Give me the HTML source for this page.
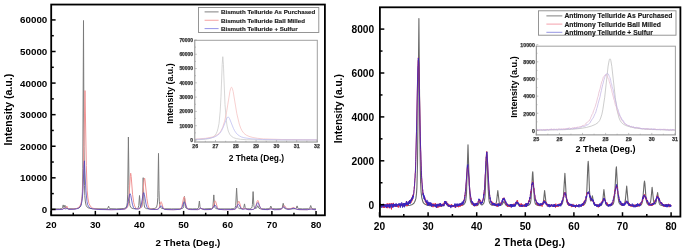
<!DOCTYPE html>
<html><head><meta charset="utf-8"><style>
html,body{margin:0;padding:0;background:#fff;width:685px;height:252px;overflow:hidden}
svg{display:block;will-change:transform}
text{font-family:"Liberation Sans",sans-serif;font-weight:bold}
</style></head><body><svg width="685" height="252" viewBox="0 0 685 252"><path d="M51.2 208.9L59.5 208.9L61.8 208.6L62.5 207.9L63.2 204.9L63.9 207.5L64.1 207.6L64.3 207.4L64.9 205.2L65.6 207.9L66.4 208.6L73.1 208.8L77.2 208.4L78.9 207.9L80.1 207.0L80.9 205.5L81.5 203.2L82.0 198.5L82.4 191.8L82.8 168.8L83.5 20.5L84.0 146.8L84.5 185.7L84.8 195.7L85.4 202.0L86.2 205.5L87.4 207.4L89.2 208.2L92.1 208.7L106.3 208.9L107.7 208.5L108.6 206.1L109.3 208.2L109.8 208.7L116.7 208.9L123.9 208.5L125.4 208.0L126.3 207.0L126.9 205.2L127.3 202.7L127.7 194.1L128.4 137.0L129.0 185.5L129.3 198.9L129.7 203.5L130.1 205.9L130.8 207.4L132.1 208.3L133.7 208.7L136.2 208.7L137.5 208.4L138.2 207.8L138.8 205.5L139.5 195.5L140.4 206.4L140.6 207.2L141.0 207.5L141.4 207.3L141.9 206.6L142.5 201.1L143.2 177.7L143.9 201.2L144.2 204.9L144.7 207.3L145.3 208.1L146.4 208.6L151.0 208.9L154.9 208.4L155.9 207.9L156.6 207.0L157.3 204.1L157.8 197.5L158.5 153.4L159.0 190.8L159.3 201.2L159.7 204.7L160.1 206.6L160.8 207.7L161.8 208.3L164.6 208.8L171.3 208.9L180.0 208.9L182.6 208.4L183.3 207.8L183.6 206.6L184.5 196.5L185.4 206.6L185.8 207.9L186.5 208.5L188.4 208.8L192.8 208.9L196.5 208.8L197.9 208.5L198.4 208.0L198.6 207.2L199.4 201.0L200.0 206.7L200.4 208.0L200.8 208.5L201.9 208.8L204.3 208.9L211.4 208.6L212.4 208.1L212.9 206.7L213.8 194.9L214.6 206.2L215.0 207.6L215.5 208.3L216.9 208.8L220.1 208.9L230.4 208.9L233.9 208.6L234.6 208.2L235.2 207.6L235.7 205.6L236.6 188.1L237.5 205.6L238.0 207.6L238.5 208.2L239.3 208.6L242.0 208.7L243.4 208.4L243.8 207.4L244.5 203.9L245.2 207.5L245.9 208.5L247.1 208.8L249.4 208.8L250.8 208.5L251.6 208.0L252.1 206.7L252.4 204.6L253.1 191.6L253.9 205.5L254.3 207.5L255.3 208.4L256.1 208.4L256.6 208.1L257.8 205.7L258.9 208.2L260.2 208.8L265.6 208.9L269.2 208.7L270.0 208.1L270.8 206.0L271.6 208.1L272.4 208.7L276.0 208.9L280.9 208.7L281.8 208.4L282.2 207.8L283.2 203.3L284.2 207.8L284.6 208.4L285.5 208.7L290.9 208.9L295.4 208.7L296.2 208.2L297.1 205.9L297.9 208.2L298.7 208.7L302.4 208.9L308.6 208.8L309.8 208.2L310.7 205.5L311.5 207.9L312.0 208.5L313.1 208.8L316.0 208.9" fill="none" stroke="#7a7a7a" stroke-width="1.00" stroke-linejoin="round" /><path d="M51.2 209.7L61.8 209.4L62.9 209.1L64.0 207.8L65.0 208.7L65.4 208.7L65.9 208.2L66.8 206.0L67.8 208.4L68.5 209.1L70.9 209.2L75.4 208.9L77.6 208.1L79.0 207.1L80.2 205.4L81.1 203.0L81.9 199.1L82.5 194.5L83.2 179.8L85.0 90.6L86.3 165.4L87.2 190.9L87.9 198.0L88.9 203.3L90.3 206.1L91.2 207.1L92.4 208.0L94.8 208.8L98.2 209.3L111.1 209.7L122.4 209.4L125.1 208.9L126.8 208.1L127.9 206.2L128.7 201.6L130.3 176.2L130.7 173.2L131.2 176.5L132.6 194.7L133.7 202.3L134.4 205.1L135.2 207.1L136.1 208.3L137.3 208.8L139.1 208.7L140.5 208.2L141.2 207.0L141.8 205.2L142.6 199.4L143.9 181.4L144.4 178.0L144.7 178.5L145.1 181.0L146.9 198.6L147.9 204.7L148.5 207.0L149.2 208.1L150.1 208.8L151.6 209.2L156.2 209.4L157.5 209.2L158.3 208.8L159.3 207.3L160.6 202.6L161.1 201.7L161.6 202.6L163.1 207.7L163.8 208.7L164.6 209.2L167.3 209.6L173.3 209.7L177.8 209.5L180.0 209.1L181.0 208.4L181.8 206.8L183.6 197.8L184.1 196.8L184.7 198.2L186.0 205.3L186.8 207.7L187.3 208.5L188.0 209.0L190.2 209.5L197.7 209.6L198.7 209.3L200.8 208.2L203.0 209.3L204.1 209.6L208.6 209.6L211.3 209.3L212.2 208.7L212.9 207.7L214.6 201.8L215.1 200.8L215.7 201.6L217.5 207.8L218.3 208.8L219.4 209.3L222.6 209.6L228.8 209.7L233.1 209.6L235.1 209.2L235.9 208.6L236.6 207.5L238.3 201.8L238.8 201.1L239.4 202.1L240.8 207.1L241.4 208.1L242.0 208.8L242.9 209.0L244.9 208.4L247.8 209.6L252.2 209.5L253.9 209.1L255.0 208.1L255.8 206.3L257.2 201.2L257.8 200.4L258.3 201.2L259.6 205.9L260.4 207.8L261.4 208.9L262.8 209.4L268.0 209.6L271.0 208.5L274.2 209.6L280.2 209.5L281.1 209.2L281.9 208.7L283.7 205.9L284.3 205.5L284.8 205.9L286.6 208.6L288.0 209.2L289.8 209.0L293.3 207.5L294.2 207.8L296.7 209.1L298.7 209.6L307.3 209.7L311.1 208.8L313.9 209.5L316.0 209.7" fill="none" stroke="#f09494" stroke-width="1.00" stroke-linejoin="round" /><path d="M51.2 209.7L61.8 209.5L62.9 209.2L64.0 208.3L65.0 208.9L65.5 208.9L66.7 207.9L67.8 209.0L68.5 209.4L75.0 209.2L78.2 208.4L79.3 207.7L80.2 206.6L81.0 205.0L81.5 203.2L82.5 196.8L83.1 186.8L84.0 164.5L84.4 160.8L85.9 190.8L87.0 201.6L87.7 204.8L88.8 206.8L90.4 208.2L92.6 208.9L98.9 209.5L111.7 209.7L121.3 209.5L125.2 208.9L126.4 207.9L127.3 205.9L129.5 195.1L129.9 193.9L130.1 193.7L130.8 195.6L132.4 204.2L133.4 207.4L134.2 208.4L135.2 208.9L137.0 209.1L138.7 208.9L139.9 208.0L140.8 206.1L141.6 202.8L143.1 194.1L143.5 192.8L143.8 192.6L144.4 194.6L146.0 203.9L146.9 207.1L147.5 208.0L148.3 208.8L150.9 209.4L155.4 209.5L157.9 209.3L159.0 208.5L160.6 206.0L161.1 205.6L161.6 206.0L163.4 208.7L164.8 209.5L173.2 209.7L179.8 209.4L181.0 208.8L181.8 207.9L183.8 202.4L184.3 201.8L184.8 202.4L186.3 206.8L187.2 208.5L188.4 209.3L190.8 209.6L197.5 209.6L198.6 209.3L200.7 208.2L202.8 209.3L203.9 209.6L210.8 209.5L211.7 209.2L212.5 208.6L214.3 205.6L215.0 205.1L215.5 205.5L217.4 208.6L218.8 209.4L224.7 209.7L233.5 209.5L234.9 209.2L235.8 208.5L237.8 204.6L238.3 204.1L239.0 204.7L240.7 208.1L241.9 209.1L243.2 209.3L245.5 208.8L248.2 209.6L251.9 209.6L253.8 209.2L254.9 208.3L255.8 206.7L257.1 203.4L257.8 202.6L258.4 203.4L259.8 206.7L260.7 208.3L261.6 209.1L263.2 209.5L268.0 209.6L271.0 208.8L274.1 209.7L279.5 209.6L281.2 209.0L283.2 207.2L283.9 206.9L284.5 207.3L286.4 208.9L288.0 209.4L290.1 209.2L293.5 208.2L297.0 209.3L299.0 209.6L307.3 209.7L311.1 209.0L313.9 209.6L316.0 209.7" fill="none" stroke="#4a40c0" stroke-width="1.00" stroke-linejoin="round" opacity="0.75"/><rect x="51.20" y="4.55" width="273.70" height="210.75" fill="none" stroke="#000" stroke-width="1.8"/><line x1="51.20" y1="209.40" x2="55.60" y2="209.40" stroke="#000" stroke-width="1.50"/><text x="47.30" y="212.90" font-size="9.80" text-anchor="end" fill="#000" >0</text><line x1="51.20" y1="193.61" x2="53.80" y2="193.61" stroke="#000" stroke-width="1.50"/><line x1="51.20" y1="177.82" x2="55.60" y2="177.82" stroke="#000" stroke-width="1.50"/><text x="47.30" y="181.32" font-size="9.80" text-anchor="end" fill="#000" >10000</text><line x1="51.20" y1="162.03" x2="53.80" y2="162.03" stroke="#000" stroke-width="1.50"/><line x1="51.20" y1="146.24" x2="55.60" y2="146.24" stroke="#000" stroke-width="1.50"/><text x="47.30" y="149.74" font-size="9.80" text-anchor="end" fill="#000" >20000</text><line x1="51.20" y1="130.45" x2="53.80" y2="130.45" stroke="#000" stroke-width="1.50"/><line x1="51.20" y1="114.66" x2="55.60" y2="114.66" stroke="#000" stroke-width="1.50"/><text x="47.30" y="118.16" font-size="9.80" text-anchor="end" fill="#000" >30000</text><line x1="51.20" y1="98.87" x2="53.80" y2="98.87" stroke="#000" stroke-width="1.50"/><line x1="51.20" y1="83.08" x2="55.60" y2="83.08" stroke="#000" stroke-width="1.50"/><text x="47.30" y="86.58" font-size="9.80" text-anchor="end" fill="#000" >40000</text><line x1="51.20" y1="67.29" x2="53.80" y2="67.29" stroke="#000" stroke-width="1.50"/><line x1="51.20" y1="51.50" x2="55.60" y2="51.50" stroke="#000" stroke-width="1.50"/><text x="47.30" y="55.00" font-size="9.80" text-anchor="end" fill="#000" >50000</text><line x1="51.20" y1="35.71" x2="53.80" y2="35.71" stroke="#000" stroke-width="1.50"/><line x1="51.20" y1="19.92" x2="55.60" y2="19.92" stroke="#000" stroke-width="1.50"/><text x="47.30" y="23.42" font-size="9.80" text-anchor="end" fill="#000" >60000</text><line x1="51.20" y1="215.30" x2="51.20" y2="210.90" stroke="#000" stroke-width="1.50"/><text x="51.20" y="227.60" font-size="9.70" text-anchor="middle" fill="#000" >20</text><line x1="73.27" y1="215.30" x2="73.27" y2="212.70" stroke="#000" stroke-width="1.50"/><line x1="95.34" y1="215.30" x2="95.34" y2="210.90" stroke="#000" stroke-width="1.50"/><text x="95.34" y="227.60" font-size="9.70" text-anchor="middle" fill="#000" >30</text><line x1="117.41" y1="215.30" x2="117.41" y2="212.70" stroke="#000" stroke-width="1.50"/><line x1="139.48" y1="215.30" x2="139.48" y2="210.90" stroke="#000" stroke-width="1.50"/><text x="139.48" y="227.60" font-size="9.70" text-anchor="middle" fill="#000" >40</text><line x1="161.55" y1="215.30" x2="161.55" y2="212.70" stroke="#000" stroke-width="1.50"/><line x1="183.62" y1="215.30" x2="183.62" y2="210.90" stroke="#000" stroke-width="1.50"/><text x="183.62" y="227.60" font-size="9.70" text-anchor="middle" fill="#000" >50</text><line x1="205.69" y1="215.30" x2="205.69" y2="212.70" stroke="#000" stroke-width="1.50"/><line x1="227.76" y1="215.30" x2="227.76" y2="210.90" stroke="#000" stroke-width="1.50"/><text x="227.76" y="227.60" font-size="9.70" text-anchor="middle" fill="#000" >60</text><line x1="249.83" y1="215.30" x2="249.83" y2="212.70" stroke="#000" stroke-width="1.50"/><line x1="271.90" y1="215.30" x2="271.90" y2="210.90" stroke="#000" stroke-width="1.50"/><text x="271.90" y="227.60" font-size="9.70" text-anchor="middle" fill="#000" >70</text><line x1="293.97" y1="215.30" x2="293.97" y2="212.70" stroke="#000" stroke-width="1.50"/><line x1="316.04" y1="215.30" x2="316.04" y2="210.90" stroke="#000" stroke-width="1.50"/><text x="316.04" y="227.60" font-size="9.70" text-anchor="middle" fill="#000" >80</text><text x="188.00" y="246.00" font-size="9.80" text-anchor="middle" fill="#000" >2 Theta (Deg.)</text><text x="0.00" y="0.00" font-size="10.60" text-anchor="middle" fill="#000" transform="translate(11.9,109.6) rotate(-90)">Intensity (a.u.)</text><rect x="198.5" y="7.5" width="120.3" height="25" fill="#fff" stroke="#8a8a8a" stroke-width="0.9"/><line x1="204.60" y1="11.90" x2="218.60" y2="11.90" stroke="#555" stroke-width="0.75"/><line x1="204.60" y1="20.25" x2="218.60" y2="20.25" stroke="#f08080" stroke-width="0.75"/><line x1="204.60" y1="28.60" x2="218.60" y2="28.60" stroke="#7070e0" stroke-width="0.75"/><text x="221.00" y="14.20" font-size="6.18" text-anchor="start" fill="#1a1a1a" stroke="#1a1a1a" stroke-width="0.15">Bismuth Telluride As Purchased</text><text x="221.00" y="22.55" font-size="6.18" text-anchor="start" fill="#1a1a1a" stroke="#1a1a1a" stroke-width="0.15">Bismuth Telluride Ball Milled</text><text x="221.00" y="30.90" font-size="6.18" text-anchor="start" fill="#1a1a1a" stroke="#1a1a1a" stroke-width="0.15">Bismuth Telluride + Sulfur</text><rect x="194.80" y="40.30" width="122.50" height="101.70" fill="#fff"/><path d="M195.2 139.9L205.6 139.2L208.8 138.7L211.4 137.9L213.5 136.9L215.1 135.4L216.3 133.5L217.3 131.1L218.1 128.1L219.0 123.6L220.2 111.2L221.0 96.2L222.2 64.3L222.8 56.7L223.4 64.3L225.0 104.6L226.3 120.4L227.1 126.1L228.3 131.1L229.7 134.2L231.3 136.2L233.6 137.7L236.4 138.6L240.5 139.3L246.4 139.7L266.9 140.1L317.0 140.2" fill="none" stroke="#c4c4c4" stroke-width="0.70" stroke-linejoin="round" /><path d="M195.2 139.1L205.6 138.3L212.5 137.0L215.1 136.0L217.1 134.9L219.0 133.5L220.4 131.8L222.6 127.6L224.6 121.2L226.5 112.5L229.9 91.6L230.7 88.4L231.1 87.5L231.5 87.3L231.9 87.5L232.3 88.4L233.2 91.6L236.8 113.6L239.3 124.1L240.7 128.1L242.1 130.9L243.9 133.3L246.2 135.1L249.0 136.4L252.9 137.5L257.5 138.3L263.6 138.9L282.1 139.5L317.0 139.8" fill="none" stroke="#f4bcbc" stroke-width="0.70" stroke-linejoin="round" /><path d="M195.2 139.4L203.7 139.0L209.8 138.2L214.1 137.2L217.3 135.5L219.6 133.6L221.6 130.7L223.4 126.8L226.5 118.9L227.3 117.5L228.1 117.0L228.7 117.3L229.5 118.5L233.4 128.3L234.6 130.7L236.0 132.8L237.4 134.4L239.3 135.8L241.3 136.9L243.9 137.7L251.0 138.8L262.4 139.5L281.5 139.8L317.0 139.9" fill="none" stroke="#b8b8f0" stroke-width="0.70" stroke-linejoin="round" /><line x1="194.30" y1="40.30" x2="317.80" y2="40.30" stroke="#a0a0a0" stroke-width="1.00"/><line x1="317.30" y1="40.30" x2="317.30" y2="142.00" stroke="#a0a0a0" stroke-width="1.00"/><line x1="194.80" y1="39.80" x2="194.80" y2="142.50" stroke="#888" stroke-width="1.00"/><line x1="194.30" y1="142.00" x2="317.80" y2="142.00" stroke="#888" stroke-width="1.00"/><line x1="194.80" y1="140.00" x2="196.80" y2="140.00" stroke="#999" stroke-width="0.60"/><text x="193.00" y="141.80" font-size="4.90" text-anchor="end" fill="#333" stroke="#333" stroke-width="0.25">0</text><line x1="194.80" y1="132.85" x2="196.00" y2="132.85" stroke="#999" stroke-width="0.60"/><line x1="194.80" y1="125.71" x2="196.80" y2="125.71" stroke="#999" stroke-width="0.60"/><text x="193.00" y="127.51" font-size="4.90" text-anchor="end" fill="#333" stroke="#333" stroke-width="0.25">10000</text><line x1="194.80" y1="118.56" x2="196.00" y2="118.56" stroke="#999" stroke-width="0.60"/><line x1="194.80" y1="111.42" x2="196.80" y2="111.42" stroke="#999" stroke-width="0.60"/><text x="193.00" y="113.22" font-size="4.90" text-anchor="end" fill="#333" stroke="#333" stroke-width="0.25">20000</text><line x1="194.80" y1="104.28" x2="196.00" y2="104.28" stroke="#999" stroke-width="0.60"/><line x1="194.80" y1="97.13" x2="196.80" y2="97.13" stroke="#999" stroke-width="0.60"/><text x="193.00" y="98.93" font-size="4.90" text-anchor="end" fill="#333" stroke="#333" stroke-width="0.25">30000</text><line x1="194.80" y1="89.98" x2="196.00" y2="89.98" stroke="#999" stroke-width="0.60"/><line x1="194.80" y1="82.84" x2="196.80" y2="82.84" stroke="#999" stroke-width="0.60"/><text x="193.00" y="84.64" font-size="4.90" text-anchor="end" fill="#333" stroke="#333" stroke-width="0.25">40000</text><line x1="194.80" y1="75.70" x2="196.00" y2="75.70" stroke="#999" stroke-width="0.60"/><line x1="194.80" y1="68.55" x2="196.80" y2="68.55" stroke="#999" stroke-width="0.60"/><text x="193.00" y="70.35" font-size="4.90" text-anchor="end" fill="#333" stroke="#333" stroke-width="0.25">50000</text><line x1="194.80" y1="61.41" x2="196.00" y2="61.41" stroke="#999" stroke-width="0.60"/><line x1="194.80" y1="54.26" x2="196.80" y2="54.26" stroke="#999" stroke-width="0.60"/><text x="193.00" y="56.06" font-size="4.90" text-anchor="end" fill="#333" stroke="#333" stroke-width="0.25">60000</text><line x1="194.80" y1="47.12" x2="196.00" y2="47.12" stroke="#999" stroke-width="0.60"/><line x1="194.80" y1="39.97" x2="196.80" y2="39.97" stroke="#999" stroke-width="0.60"/><text x="193.00" y="41.77" font-size="4.90" text-anchor="end" fill="#333" stroke="#333" stroke-width="0.25">70000</text><line x1="195.20" y1="142.00" x2="195.20" y2="140.00" stroke="#999" stroke-width="0.60"/><text x="195.20" y="147.80" font-size="5.20" text-anchor="middle" fill="#333" stroke="#333" stroke-width="0.25">26</text><line x1="205.35" y1="142.00" x2="205.35" y2="140.80" stroke="#999" stroke-width="0.60"/><line x1="215.50" y1="142.00" x2="215.50" y2="140.00" stroke="#999" stroke-width="0.60"/><text x="215.50" y="147.80" font-size="5.20" text-anchor="middle" fill="#333" stroke="#333" stroke-width="0.25">27</text><line x1="225.65" y1="142.00" x2="225.65" y2="140.80" stroke="#999" stroke-width="0.60"/><line x1="235.80" y1="142.00" x2="235.80" y2="140.00" stroke="#999" stroke-width="0.60"/><text x="235.80" y="147.80" font-size="5.20" text-anchor="middle" fill="#333" stroke="#333" stroke-width="0.25">28</text><line x1="245.95" y1="142.00" x2="245.95" y2="140.80" stroke="#999" stroke-width="0.60"/><line x1="256.10" y1="142.00" x2="256.10" y2="140.00" stroke="#999" stroke-width="0.60"/><text x="256.10" y="147.80" font-size="5.20" text-anchor="middle" fill="#333" stroke="#333" stroke-width="0.25">29</text><line x1="266.25" y1="142.00" x2="266.25" y2="140.80" stroke="#999" stroke-width="0.60"/><line x1="276.40" y1="142.00" x2="276.40" y2="140.00" stroke="#999" stroke-width="0.60"/><text x="276.40" y="147.80" font-size="5.20" text-anchor="middle" fill="#333" stroke="#333" stroke-width="0.25">30</text><line x1="286.55" y1="142.00" x2="286.55" y2="140.80" stroke="#999" stroke-width="0.60"/><line x1="296.70" y1="142.00" x2="296.70" y2="140.00" stroke="#999" stroke-width="0.60"/><text x="296.70" y="147.80" font-size="5.20" text-anchor="middle" fill="#333" stroke="#333" stroke-width="0.25">31</text><line x1="306.85" y1="142.00" x2="306.85" y2="140.80" stroke="#999" stroke-width="0.60"/><line x1="317.00" y1="142.00" x2="317.00" y2="140.00" stroke="#999" stroke-width="0.60"/><text x="317.00" y="147.80" font-size="5.20" text-anchor="middle" fill="#333" stroke="#333" stroke-width="0.25">32</text><text x="256.40" y="160.60" font-size="8.40" text-anchor="middle" fill="#000" >2 Theta (Deg.)</text><text x="0.00" y="0.00" font-size="8.95" text-anchor="middle" fill="#000" transform="translate(173.3,93.5) rotate(-90)">Intensity (a.u.)</text><path d="M379.5 206.0L402.1 205.8L407.0 205.6L410.1 205.2L412.4 204.4L413.9 203.2L415.1 201.1L415.9 198.4L416.5 193.4L416.9 187.4L417.5 164.5L418.9 18.6L420.0 149.8L420.6 182.4L421.1 192.3L421.8 197.9L422.9 201.9L423.7 203.1L424.7 204.1L426.8 205.1L430.0 205.7L436.4 206.0L442.3 205.9L443.3 205.7L443.9 205.2L445.6 201.8L447.0 204.8L447.7 205.6L449.5 205.9L453.7 206.0L458.4 205.8L461.4 205.5L463.4 204.8L464.6 203.6L465.3 202.3L465.8 200.4L466.5 193.1L468.0 144.8L469.3 186.6L470.0 198.2L470.5 201.3L471.3 203.3L472.4 204.6L474.2 205.4L476.2 205.7L477.7 205.4L478.4 204.5L479.6 201.7L481.1 204.5L481.6 204.9L482.2 204.9L483.5 203.7L484.3 201.6L484.9 197.4L485.3 191.6L486.4 157.1L486.8 152.3L488.1 187.4L488.8 198.3L489.2 201.5L489.8 203.3L490.8 204.5L492.2 205.2L494.9 205.0L495.6 204.6L496.0 203.7L496.6 201.0L497.8 190.6L499.2 202.3L499.7 204.2L500.5 205.0L501.4 205.0L502.1 204.6L503.5 202.0L503.9 201.7L505.9 205.0L506.6 205.6L507.8 205.9L511.8 206.0L514.4 205.8L515.4 205.1L517.0 203.0L518.9 205.3L520.2 205.9L523.2 206.0L526.4 205.7L528.1 205.4L529.3 204.7L530.0 203.9L530.5 202.8L531.1 198.6L532.5 173.4L532.8 171.7L534.4 199.5L535.1 203.0L535.6 204.0L536.4 204.8L538.0 205.4L540.3 205.6L541.8 205.2L542.7 204.4L543.5 201.2L544.6 190.6L545.9 201.9L546.4 204.0L547.1 205.1L548.0 205.6L549.7 205.9L556.1 206.0L559.8 205.5L561.0 205.1L561.8 204.5L562.7 202.4L563.3 198.5L564.9 173.4L566.3 197.4L566.8 201.5L567.6 203.9L568.3 204.7L569.2 205.3L572.3 205.9L579.3 205.9L581.7 205.6L583.3 205.1L584.5 204.3L585.3 203.2L585.9 201.4L586.2 199.0L586.8 191.3L587.8 166.5L588.2 161.4L588.6 166.4L589.5 191.0L590.2 199.0L590.6 200.7L590.8 201.0L591.1 200.9L592.4 195.9L593.7 203.4L594.2 204.6L595.0 205.3L596.8 205.8L599.4 205.9L600.9 205.5L601.8 204.7L602.7 201.1L603.9 189.6L605.3 201.7L605.7 203.6L606.2 204.8L606.8 205.3L607.5 205.7L610.1 205.7L612.0 205.1L613.3 203.8L614.0 201.3L614.6 196.6L616.0 169.9L616.4 166.9L618.1 197.5L618.9 202.3L619.5 203.6L620.3 204.4L621.6 205.0L623.1 205.1L624.2 204.5L624.7 203.4L625.4 199.7L626.7 186.1L628.0 200.6L628.5 203.3L629.1 204.6L629.8 205.2L631.0 205.7L634.7 206.0L639.0 205.7L640.4 205.3L641.3 204.7L642.1 203.1L642.7 200.3L644.1 183.7L644.5 181.1L644.9 183.6L646.1 199.4L646.7 202.5L647.5 204.0L648.3 204.5L649.2 204.4L649.9 203.8L650.4 202.6L651.0 199.0L652.1 187.4L653.5 200.4L653.9 202.4L654.5 203.7L655.0 203.9L655.4 203.7L656.0 202.3L657.6 192.5L659.0 202.3L659.4 203.7L660.0 204.7L661.1 205.3L662.8 205.7L671.1 206.0" fill="none" stroke="#686868" stroke-width="1.10" stroke-linejoin="round" /><path d="M379.5 205.6L379.6 204.3L379.8 206.7L379.9 204.6L380.1 206.0L380.2 206.0L380.4 203.6L380.5 205.5L380.7 205.7L381.0 204.4L381.1 205.7L381.2 205.0L381.4 206.7L381.5 206.1L381.7 206.1L381.8 207.1L382.1 207.4L382.3 205.9L382.4 205.8L382.6 206.0L382.7 205.6L382.9 207.1L383.0 205.7L383.3 204.8L383.4 206.6L383.6 206.1L383.7 207.8L383.9 206.2L384.0 208.0L384.2 207.2L384.3 204.4L384.5 208.0L384.6 204.7L384.9 206.0L385.0 205.1L385.2 205.0L385.3 204.5L385.5 205.9L385.6 206.2L385.8 206.3L385.9 206.7L386.1 205.6L386.2 206.4L386.4 204.4L386.5 207.6L386.6 206.8L386.8 206.6L386.9 207.9L387.1 203.5L387.2 208.2L387.4 205.9L387.5 206.1L387.7 203.7L387.8 207.7L388.0 204.4L388.1 206.3L388.2 205.7L388.4 206.3L388.5 204.8L388.7 206.8L388.8 205.6L389.0 205.1L389.1 203.5L389.3 208.2L389.4 203.8L389.6 204.5L389.7 206.0L389.9 205.2L390.0 206.0L390.1 203.7L390.3 205.3L390.4 205.7L390.9 205.7L391.0 206.4L391.2 203.2L391.3 207.5L391.5 209.4L391.6 205.6L391.7 205.6L391.9 205.0L392.0 205.7L392.2 205.6L392.5 204.4L392.6 205.9L392.8 205.8L392.9 203.3L393.2 206.5L393.4 202.9L393.6 206.0L393.8 206.6L393.9 205.0L394.1 206.3L394.4 206.7L394.7 204.1L395.0 206.9L395.1 204.6L395.2 205.2L395.4 204.4L395.5 204.0L395.7 205.5L396.0 205.3L396.1 206.5L396.3 204.5L396.4 203.8L396.6 205.1L396.7 205.5L396.9 205.5L397.0 206.1L397.1 206.1L397.3 205.6L397.4 206.1L397.6 205.7L397.7 206.9L397.9 204.8L398.0 205.1L398.3 207.6L398.5 205.2L398.6 204.0L398.7 205.9L398.9 205.6L399.0 205.7L399.2 204.4L399.3 206.1L399.5 204.0L399.6 205.4L399.8 204.1L399.9 205.0L400.1 205.3L400.2 206.6L400.6 204.3L400.8 204.7L400.9 205.7L401.2 203.9L401.4 205.1L401.5 205.4L401.7 205.3L401.8 204.0L402.0 204.3L402.1 205.8L402.2 204.4L402.4 205.3L402.5 205.6L402.7 203.4L402.8 203.9L403.0 205.5L403.3 204.1L403.4 205.3L403.7 203.9L403.8 206.4L404.0 204.2L404.1 203.7L404.3 204.0L404.4 205.9L404.6 204.1L404.7 205.3L404.9 203.8L405.0 203.7L405.2 204.1L405.3 205.1L405.5 204.8L405.6 203.3L405.7 205.1L405.9 203.6L406.0 203.5L406.2 204.3L406.3 201.5L406.5 203.9L406.6 201.6L406.8 205.9L406.9 206.1L407.1 202.7L407.2 203.0L407.3 203.9L407.5 203.6L407.6 205.5L407.8 204.1L407.9 204.4L408.2 202.3L408.4 203.1L408.5 202.7L408.7 203.7L409.0 202.7L409.1 203.0L409.2 201.3L409.4 203.4L409.5 200.4L409.7 203.2L409.8 201.0L410.0 202.8L410.1 200.1L410.3 201.5L410.6 200.6L410.7 201.9L410.8 202.1L411.0 202.9L411.1 199.4L411.3 201.1L411.4 200.8L411.6 200.0L411.7 197.7L411.9 201.2L412.0 198.9L412.2 199.2L412.3 197.9L412.5 199.9L412.9 195.2L413.0 194.7L413.2 196.6L413.3 195.0L413.5 194.5L413.6 195.0L413.8 194.2L413.9 191.0L414.2 189.5L414.3 186.7L414.5 187.3L414.6 183.9L414.9 180.1L415.4 170.9L415.7 161.5L415.8 159.3L416.5 131.3L417.6 79.2L418.0 63.3L418.1 60.4L418.3 59.9L418.4 57.7L418.9 66.3L419.3 84.2L420.3 136.3L420.9 159.3L421.1 161.2L421.3 170.5L421.5 172.1L421.6 177.6L422.2 184.6L422.5 190.8L422.7 190.0L422.8 193.0L422.9 192.7L423.1 194.8L423.2 193.3L423.7 196.3L424.0 197.6L424.1 197.4L424.3 197.9L424.4 198.1L424.6 199.3L424.7 197.4L424.8 199.3L425.0 198.5L425.1 198.8L425.3 201.2L425.4 202.2L425.6 199.6L425.7 201.4L425.9 201.1L426.0 201.7L426.2 201.5L426.3 202.9L426.4 202.0L426.6 202.5L426.7 202.2L426.9 204.7L427.0 201.7L427.2 202.3L427.3 204.4L427.8 202.5L427.9 203.2L428.1 201.9L428.3 204.4L428.5 204.2L428.6 202.9L428.8 204.3L428.9 203.0L429.1 202.9L429.2 203.4L429.4 203.0L429.5 204.2L429.7 204.1L429.8 204.7L429.9 204.8L430.1 205.8L430.2 204.9L430.5 205.8L430.7 204.3L430.8 204.1L431.0 204.9L431.1 203.3L431.3 203.7L431.4 203.7L431.7 206.2L431.8 204.2L432.0 204.5L432.1 204.1L432.3 204.5L432.4 203.7L432.6 205.2L432.7 204.3L433.0 207.2L433.3 203.6L433.4 206.7L433.6 204.1L433.7 205.8L434.0 205.1L434.2 205.0L434.3 206.1L434.5 205.1L434.8 204.5L434.9 206.0L435.0 203.8L435.3 203.0L435.5 206.6L435.6 205.2L435.8 207.1L435.9 205.0L436.1 204.8L436.2 206.4L436.4 206.9L436.5 205.2L436.7 204.8L436.8 206.1L436.9 205.6L437.1 207.8L437.2 206.1L437.4 205.3L437.5 205.3L437.7 203.9L437.8 206.5L438.0 207.6L438.1 205.0L438.3 206.0L438.4 205.2L438.5 204.8L438.7 204.9L438.8 204.1L439.0 204.2L439.1 207.1L439.4 203.6L439.6 205.9L439.7 204.6L439.9 205.6L440.0 205.9L440.2 204.0L440.3 204.5L440.4 205.7L440.6 204.7L440.7 206.7L440.9 206.2L441.0 204.7L441.3 206.5L441.5 205.0L441.6 205.1L441.8 204.2L441.9 204.5L442.0 205.6L442.2 205.8L442.3 205.4L442.5 205.5L442.6 203.9L442.8 203.7L442.9 203.8L443.2 205.1L443.4 203.9L443.5 205.0L443.7 204.3L443.8 205.8L444.1 202.6L444.2 204.6L444.4 204.8L444.7 201.4L444.8 201.4L445.0 202.8L445.1 202.7L445.3 202.2L445.4 202.8L445.5 201.9L445.7 202.2L445.8 203.3L446.0 202.7L446.1 202.6L446.4 203.8L446.6 202.2L446.7 201.6L446.9 203.8L447.0 204.2L447.2 203.6L447.4 205.1L447.6 203.3L447.7 205.7L447.9 205.5L448.0 205.6L448.2 205.9L448.6 204.0L448.9 205.4L449.0 206.6L449.2 205.5L449.3 206.4L449.6 204.7L450.1 206.3L450.2 205.6L450.4 205.5L450.5 206.5L450.7 206.1L450.8 204.9L450.9 207.2L451.1 206.1L451.2 206.7L451.4 204.3L451.5 205.1L452.0 205.4L452.1 205.4L452.3 207.1L452.4 205.5L452.5 205.2L452.7 207.0L452.8 204.9L453.0 205.1L453.1 207.0L453.3 206.1L453.4 205.9L453.6 206.1L453.7 205.3L453.9 206.8L454.0 205.9L454.3 205.0L454.4 205.6L454.6 205.8L454.7 205.0L454.9 207.4L455.0 204.8L455.3 206.7L455.5 206.0L455.6 207.2L455.8 207.4L455.9 205.8L456.0 206.2L456.2 204.9L456.3 206.3L456.5 206.6L456.6 206.3L456.8 204.0L456.9 205.4L457.2 206.3L457.4 206.4L457.8 204.3L457.9 204.3L458.2 205.9L458.4 206.0L458.5 207.2L458.8 204.8L459.0 205.4L459.1 204.8L459.3 206.2L459.4 204.3L459.5 204.7L459.7 204.9L459.8 204.6L460.0 206.8L460.1 205.3L460.3 205.6L460.4 203.2L460.6 204.8L460.7 205.1L460.9 203.8L461.0 205.4L461.1 203.2L461.3 205.0L461.4 204.3L461.6 205.0L461.7 203.4L461.9 205.9L462.0 203.3L462.2 204.5L462.3 203.6L462.5 204.5L462.6 203.2L462.8 203.0L462.9 202.5L463.0 202.5L463.3 201.5L463.5 202.4L463.6 202.7L463.8 202.4L463.9 200.3L464.1 200.7L464.2 198.9L464.5 199.3L464.8 195.1L464.9 195.9L465.1 195.4L465.2 194.1L465.4 191.3L465.5 191.0L465.8 186.6L466.3 181.9L466.8 172.8L467.0 171.9L467.3 168.0L467.7 165.7L468.0 167.3L468.1 169.3L468.3 169.5L468.7 176.0L468.9 176.8L469.0 177.3L469.3 183.4L469.6 187.7L470.0 192.5L470.2 193.2L470.6 197.4L470.8 197.4L470.9 199.3L471.1 198.5L471.2 200.1L471.4 200.4L471.5 200.2L471.6 200.8L471.8 202.8L471.9 202.2L472.1 202.0L472.4 204.8L472.5 203.1L472.7 203.3L472.8 203.1L473.0 203.5L473.2 203.7L473.4 202.9L473.5 203.7L473.7 203.8L473.8 204.6L474.0 203.5L474.1 204.7L474.3 204.0L474.4 206.4L474.6 204.5L474.9 205.1L475.0 203.7L475.1 204.5L475.4 205.3L475.6 203.3L475.7 204.2L475.9 204.3L476.0 205.4L476.2 203.7L476.5 204.9L476.6 204.7L476.7 205.8L476.9 203.9L477.0 205.1L477.2 203.4L477.3 204.2L477.5 204.1L477.6 203.0L477.8 202.8L477.9 203.5L478.2 201.3L478.5 201.9L478.6 200.6L478.8 200.9L479.1 199.6L479.2 199.7L479.4 199.9L479.5 201.3L479.7 200.0L480.0 201.3L480.1 201.3L480.2 200.2L480.4 203.1L480.5 203.6L480.7 201.9L480.8 203.2L481.0 201.7L481.1 203.6L481.3 203.2L481.4 202.1L481.6 202.0L481.7 202.3L481.9 202.1L482.0 202.4L482.1 202.5L482.3 202.1L482.4 200.6L482.7 200.9L483.2 198.5L483.3 198.9L483.5 198.1L483.6 196.9L483.7 194.1L483.9 194.8L484.0 192.7L484.2 193.5L484.3 190.0L484.5 189.9L484.6 187.7L485.5 171.4L485.6 166.1L485.8 164.8L486.1 158.0L486.7 151.5L486.8 153.7L487.1 154.6L487.2 158.1L487.5 160.5L488.1 174.0L488.3 175.8L488.6 182.3L489.1 190.7L489.3 191.1L489.9 197.8L490.2 199.6L490.3 199.3L490.5 199.4L490.9 201.8L491.0 201.7L491.2 202.1L491.3 202.0L491.5 201.6L491.6 203.4L491.8 201.5L491.9 204.9L492.2 204.7L492.5 204.0L492.6 202.4L492.8 204.6L492.9 203.3L493.1 204.5L493.2 204.2L493.4 205.2L493.5 202.8L493.7 204.6L493.8 205.1L494.0 203.0L494.1 204.6L494.2 204.4L494.7 205.9L495.0 203.6L495.3 205.0L495.4 204.1L495.6 205.6L495.7 203.9L496.0 205.6L496.1 204.5L496.3 204.6L496.4 205.3L496.9 204.0L497.2 207.0L497.3 203.6L497.5 205.3L497.6 205.4L497.7 204.8L497.9 205.4L498.0 204.3L498.2 206.0L498.3 205.2L498.5 206.0L498.6 203.9L498.8 205.2L498.9 204.2L499.1 203.9L499.2 205.8L499.5 204.3L499.6 204.7L499.8 204.8L499.9 204.0L500.1 203.9L500.2 204.9L500.5 203.7L500.7 203.9L500.8 203.8L501.0 204.5L501.1 202.2L501.2 203.5L501.4 202.9L501.5 202.8L501.8 202.1L502.0 202.5L502.3 200.4L502.4 200.6L502.6 200.0L502.7 199.9L502.8 199.8L503.0 198.2L503.1 199.8L503.4 198.1L503.6 198.5L503.7 199.4L503.9 199.5L504.0 197.7L504.2 199.6L504.3 199.1L504.5 199.0L504.6 199.6L504.7 201.3L504.9 201.7L505.0 200.8L505.2 201.7L505.3 201.6L505.5 201.7L505.6 202.0L505.8 203.4L505.9 204.0L506.1 202.4L506.2 203.8L506.5 205.2L506.6 203.6L506.8 205.1L506.9 205.1L507.1 204.0L507.2 204.4L507.4 204.3L507.7 207.0L507.8 205.7L507.9 205.3L508.1 205.6L508.2 204.6L508.4 205.0L508.5 206.1L508.7 205.0L509.0 205.8L509.1 204.7L509.3 206.7L509.4 204.8L509.6 204.8L509.7 207.0L509.8 205.7L510.0 205.7L510.1 206.4L510.3 206.0L510.4 206.2L510.6 205.6L510.7 206.0L510.9 207.2L511.0 204.8L511.2 205.0L511.3 206.3L511.6 204.3L511.7 206.8L511.9 206.0L512.0 206.1L512.2 205.3L512.5 206.7L512.6 204.8L512.8 205.9L513.1 204.0L513.2 206.2L513.3 205.9L513.5 205.0L513.6 205.6L513.8 205.2L513.9 205.5L514.1 203.5L514.2 205.0L514.5 205.2L514.7 204.9L514.8 206.2L515.1 204.3L515.2 205.5L515.4 204.5L515.5 204.4L515.7 204.5L515.8 202.2L516.0 203.2L516.1 203.2L516.3 203.8L516.4 202.9L516.6 203.0L516.8 202.2L517.0 200.5L517.1 201.3L517.3 201.0L517.4 201.3L517.6 200.4L517.7 203.1L517.9 203.7L518.0 202.9L518.3 203.5L518.4 204.2L518.7 203.0L518.9 204.2L519.0 204.7L519.2 203.9L519.3 205.1L519.5 205.2L519.6 204.8L519.8 206.8L519.9 203.9L520.1 205.4L520.2 205.0L520.3 205.2L520.5 205.1L520.6 206.4L520.8 204.2L520.9 205.1L521.1 205.3L521.2 203.3L521.4 206.4L521.5 205.0L521.8 206.6L521.9 204.2L522.1 206.6L522.2 205.4L522.4 205.6L522.5 205.4L522.7 206.2L522.8 204.6L523.1 206.4L523.3 206.3L523.4 205.3L523.6 206.3L523.7 205.1L523.8 205.2L524.1 206.7L524.3 206.3L524.4 205.1L524.6 205.7L524.7 204.0L524.9 205.6L525.0 205.0L525.2 204.7L525.3 205.1L525.4 204.9L525.6 204.4L525.7 205.1L525.9 204.8L526.0 205.2L526.2 203.5L526.3 204.7L526.5 204.2L526.6 206.8L526.8 205.0L526.9 205.3L527.0 204.4L527.3 205.0L527.6 203.5L527.8 203.1L527.9 204.1L528.1 202.8L528.2 203.8L528.4 202.7L528.5 203.4L528.8 200.6L528.9 202.0L529.1 200.5L529.2 202.0L529.4 200.9L529.5 198.0L529.7 199.3L529.8 198.3L530.0 199.0L530.1 197.1L530.3 196.8L530.4 194.6L530.5 194.9L530.7 191.7L530.8 193.2L531.0 191.2L531.1 191.8L531.4 187.4L531.7 187.1L532.0 183.8L532.2 183.6L532.3 182.7L532.4 184.1L532.6 181.7L532.7 182.6L532.9 184.8L533.0 182.5L533.2 184.8L533.3 184.9L533.5 187.6L533.6 187.6L533.8 189.5L533.9 188.6L534.2 192.0L534.3 192.7L534.5 192.6L534.6 194.9L534.8 194.9L535.1 198.2L535.2 198.1L535.5 199.0L535.7 199.0L535.8 200.5L535.9 201.0L536.1 200.6L536.4 202.0L536.5 202.1L536.7 204.1L536.8 203.2L537.0 204.2L537.3 202.8L537.4 204.8L537.5 203.1L537.7 204.2L537.8 204.1L538.0 204.4L538.1 203.7L538.4 205.8L538.6 204.2L538.7 204.6L538.9 204.1L539.0 204.1L539.2 205.5L539.3 204.5L539.6 204.8L539.9 204.5L540.0 205.2L540.2 204.9L540.3 204.1L540.5 205.6L540.6 204.9L540.8 205.5L540.9 205.5L541.2 204.6L541.3 203.7L541.5 204.8L541.6 204.0L541.9 204.4L542.1 206.6L542.2 204.2L542.4 204.1L542.5 204.8L542.8 202.7L542.9 204.4L543.2 202.5L543.4 204.2L543.7 202.3L544.0 201.3L544.1 201.5L544.3 200.2L544.5 202.6L544.8 201.3L545.0 201.6L545.1 203.4L545.3 201.9L545.4 202.9L545.6 202.7L545.7 201.8L545.9 203.2L546.0 203.7L546.1 203.6L546.3 204.1L546.4 202.5L546.6 203.5L546.7 203.6L546.9 204.9L547.0 205.0L547.2 204.5L547.3 206.3L547.5 204.2L547.6 205.9L547.8 205.0L547.9 204.9L548.0 205.8L548.2 205.0L548.3 204.8L548.5 204.0L548.6 205.1L548.8 204.1L549.1 205.6L549.2 204.9L549.4 205.9L549.8 204.8L550.1 206.6L550.2 204.7L550.4 205.5L550.7 206.2L550.8 205.2L551.0 205.4L551.1 205.2L551.3 205.7L551.4 204.6L551.5 205.9L551.7 205.4L551.8 205.5L552.0 204.9L552.1 206.2L552.3 205.9L552.4 205.8L552.6 206.2L552.7 206.1L552.9 206.5L553.0 205.2L553.1 204.6L553.3 206.4L553.4 205.1L553.6 206.5L554.2 205.4L554.3 207.0L554.5 206.6L554.6 205.6L554.8 205.8L554.9 204.2L555.0 205.8L555.2 206.1L555.3 204.8L555.5 207.5L555.6 206.9L555.8 203.7L555.9 206.0L556.1 205.6L556.2 205.7L556.4 206.2L556.5 205.7L556.6 206.5L556.8 204.9L557.1 205.0L557.4 206.8L557.5 205.8L557.7 206.2L557.8 205.2L558.0 206.5L558.3 205.3L558.4 205.0L558.5 205.2L558.7 206.2L558.8 205.7L559.0 203.8L559.3 205.7L559.4 203.8L559.6 205.1L559.7 205.0L559.9 205.5L560.0 203.8L560.1 204.7L560.3 204.7L560.4 205.2L560.6 205.4L560.7 204.2L560.9 204.2L561.0 203.0L561.2 204.5L561.5 202.7L561.6 202.6L561.8 203.4L561.9 201.6L562.0 201.9L562.2 201.2L562.3 201.2L562.5 200.3L562.6 200.8L562.8 200.1L562.9 198.7L563.1 198.6L563.4 196.8L563.5 196.8L563.6 196.0L563.8 197.2L564.1 193.9L564.2 194.6L564.5 193.0L564.7 193.1L564.8 192.2L565.1 193.1L565.2 192.5L565.5 194.6L565.7 194.4L565.8 194.8L566.1 197.3L566.6 197.9L566.7 197.8L567.1 202.2L567.3 200.2L567.7 202.8L567.9 204.5L568.0 202.5L568.2 203.8L568.3 202.4L568.5 203.2L568.6 203.0L568.7 204.2L568.9 203.4L569.0 205.4L569.2 203.5L569.5 205.5L569.6 205.1L569.8 205.6L569.9 204.8L570.2 206.0L570.4 205.4L570.5 205.3L570.9 204.4L571.1 205.0L571.2 204.2L571.4 207.1L571.5 205.4L571.7 204.8L571.8 206.4L572.0 205.6L572.1 205.3L572.2 206.6L572.5 205.1L572.7 205.8L572.8 204.5L573.0 203.9L573.1 205.6L573.3 206.4L573.4 205.6L573.7 206.6L573.9 205.9L574.0 206.0L574.1 205.9L574.3 205.0L574.4 204.9L574.7 205.9L574.9 205.4L575.0 205.7L575.2 205.5L575.5 207.8L575.6 205.1L575.7 206.1L575.9 206.0L576.0 205.7L576.2 205.7L576.3 205.9L576.5 204.6L576.6 205.6L576.8 205.5L576.9 206.3L577.2 205.3L577.4 205.7L577.5 205.4L577.6 206.3L577.8 205.4L577.9 206.3L578.1 205.9L578.2 206.1L578.5 204.8L578.8 206.2L579.1 204.8L579.4 205.2L579.5 206.3L579.7 205.9L579.8 205.9L580.0 205.8L580.1 205.2L580.4 205.6L580.6 204.9L580.7 205.8L581.0 205.2L581.1 206.2L581.3 205.8L581.4 206.1L581.6 205.8L581.7 205.1L581.9 205.1L582.0 204.7L582.2 204.6L582.3 205.6L582.5 203.4L582.6 203.7L582.7 205.4L583.3 203.7L583.5 204.0L583.6 205.6L583.8 201.6L583.9 202.9L584.1 202.7L584.2 203.6L584.5 201.9L584.6 202.6L584.8 201.1L584.9 201.5L585.1 200.1L585.2 200.8L585.4 199.4L585.5 201.1L585.7 198.6L586.0 198.9L586.1 197.3L586.2 197.8L586.4 196.5L586.7 195.2L586.8 193.9L587.0 194.0L587.1 192.7L587.3 193.5L587.4 193.4L587.6 192.9L587.7 192.9L587.8 193.5L588.0 192.3L588.1 193.2L588.3 192.5L588.4 192.6L588.7 193.6L588.9 193.1L589.0 193.5L589.2 193.0L589.3 193.9L589.5 194.2L589.6 195.6L589.7 196.0L589.9 197.2L590.0 197.4L590.2 196.7L590.3 197.8L590.6 198.8L590.8 197.7L590.9 199.1L591.1 198.6L591.2 199.6L591.3 199.1L591.5 200.6L591.6 201.0L591.8 199.4L591.9 200.4L592.2 199.7L592.4 199.9L592.5 200.2L592.7 201.3L593.1 200.6L593.4 201.3L593.5 202.4L593.8 201.8L594.0 203.4L594.1 203.4L594.3 202.7L594.4 202.5L594.8 204.9L595.0 204.5L595.1 205.1L595.4 204.3L595.6 204.6L595.7 204.1L595.9 205.8L596.0 206.0L596.2 204.3L596.3 204.5L596.5 206.0L596.6 205.3L596.7 206.1L596.9 205.4L597.2 204.8L597.3 206.2L597.5 206.4L597.6 205.1L597.8 205.8L597.9 204.5L598.1 206.3L598.2 206.0L598.3 207.4L598.5 204.7L598.6 204.6L598.9 205.7L599.1 206.9L599.4 205.8L599.5 204.0L599.8 205.7L599.9 204.9L600.2 204.7L600.4 205.6L600.5 205.1L600.7 204.0L600.8 204.1L601.0 204.6L601.1 202.5L601.3 203.8L601.4 204.1L601.6 202.9L601.7 202.7L601.8 203.1L602.0 201.4L602.3 202.0L602.4 201.2L602.6 200.9L602.7 201.2L602.9 200.1L603.0 200.7L603.3 199.2L603.4 200.3L603.6 199.5L603.7 199.8L603.9 198.6L604.0 199.5L604.2 197.9L604.3 198.2L604.5 200.0L604.6 199.6L604.8 200.3L604.9 200.4L605.3 199.9L605.5 200.4L605.6 202.9L605.8 202.7L605.9 202.8L606.1 203.2L606.4 203.0L606.5 204.0L606.7 204.3L606.8 202.5L606.9 203.8L607.1 202.9L607.2 205.0L607.4 203.7L607.5 203.6L607.7 203.9L607.8 205.5L608.0 204.6L608.1 205.6L608.3 205.9L608.4 205.1L608.6 204.8L608.7 205.3L608.8 205.3L609.0 204.7L609.1 205.7L609.3 204.9L609.4 204.6L609.7 204.7L609.9 205.8L610.0 205.2L610.2 205.3L610.3 204.4L610.4 206.1L610.6 204.7L610.7 205.8L610.9 204.2L611.0 204.9L611.5 202.9L611.6 204.7L611.8 203.7L611.9 204.9L612.1 203.5L612.2 203.6L612.3 202.4L612.5 202.6L612.6 202.1L612.8 202.6L612.9 201.6L613.1 201.7L613.2 200.4L613.4 201.0L613.8 196.2L613.9 196.3L614.2 195.3L614.4 193.9L614.5 194.2L614.7 193.0L614.8 193.7L615.1 189.8L615.3 191.0L615.4 188.8L615.7 187.9L615.8 186.8L616.0 186.6L616.1 187.0L616.3 186.2L616.4 187.4L616.6 185.2L616.7 186.6L616.9 186.4L617.0 188.2L617.2 187.0L617.4 189.6L617.7 191.2L617.9 192.9L618.2 194.3L618.3 194.7L618.5 194.7L619.3 200.8L619.6 201.5L619.8 201.2L619.9 201.7L620.2 201.4L620.7 203.3L620.8 203.4L620.9 203.0L621.1 204.2L621.2 204.8L621.5 203.2L621.7 203.2L621.8 203.8L622.0 205.6L622.1 204.4L622.5 203.2L622.7 205.2L622.8 204.3L623.0 205.6L623.1 204.7L623.3 204.8L623.4 203.9L623.6 204.4L623.7 205.7L623.9 204.5L624.2 203.2L624.3 204.6L624.4 204.6L624.6 204.3L624.7 203.0L624.9 203.8L625.2 202.9L625.3 203.6L625.5 202.1L625.6 203.8L625.8 201.2L625.9 202.7L626.0 202.7L626.2 202.5L626.3 202.6L626.5 202.4L626.6 202.3L626.8 202.6L626.9 201.9L627.1 201.7L627.2 202.5L627.4 202.1L627.5 203.1L627.7 202.5L627.9 203.9L628.1 203.3L628.4 204.3L628.7 203.8L628.8 205.2L629.1 204.2L629.3 204.8L629.4 204.3L629.5 203.3L629.7 206.0L629.8 204.9L630.0 205.5L630.1 204.3L630.3 204.9L630.4 206.4L630.6 204.7L630.7 205.5L630.9 205.7L631.2 205.4L631.3 206.2L631.4 205.8L631.6 204.6L631.7 206.3L631.9 206.0L632.0 205.1L632.2 206.3L632.5 205.4L632.6 206.3L632.8 205.9L632.9 206.3L633.2 205.5L633.3 205.7L633.6 205.4L633.8 205.1L633.9 206.4L634.2 204.6L634.4 205.8L634.5 205.9L634.6 205.7L634.8 206.2L634.9 205.3L635.1 205.7L635.2 205.8L635.5 204.8L635.7 206.6L635.8 206.0L636.0 205.8L636.1 206.6L636.4 204.1L636.5 205.0L636.7 204.7L636.8 206.9L637.0 205.8L637.1 206.4L637.3 204.9L637.4 205.5L637.6 205.5L637.9 204.8L638.0 204.2L638.3 204.6L638.4 206.3L638.6 204.3L638.9 206.1L639.0 204.8L639.2 205.1L639.3 204.9L639.5 204.0L639.6 205.6L639.8 204.1L639.9 203.6L640.0 205.0L640.2 203.1L640.3 204.4L640.5 204.3L640.6 202.9L640.8 203.4L640.9 204.5L641.2 202.2L641.4 202.8L641.8 201.5L641.9 201.6L642.1 201.4L642.4 199.1L642.5 201.4L642.7 198.9L642.8 198.1L643.0 199.0L643.1 196.9L643.3 198.6L643.4 196.5L643.5 195.7L643.7 195.4L643.8 198.0L644.0 195.9L644.1 196.5L644.4 194.6L644.6 195.3L644.7 194.5L644.9 197.0L645.0 196.6L645.1 196.6L645.3 196.1L645.4 196.0L645.6 197.8L645.7 198.2L645.9 197.4L646.0 199.3L646.2 198.4L646.3 199.8L646.5 199.7L646.6 198.5L646.8 200.5L646.9 200.7L647.0 201.6L647.3 200.6L647.6 203.2L647.9 201.7L648.1 203.7L648.2 203.3L648.4 204.0L648.5 204.0L648.8 204.8L648.9 203.6L649.1 204.1L649.2 205.7L649.4 205.0L649.5 204.9L649.7 205.2L649.8 204.4L650.0 204.7L650.1 204.3L650.3 205.6L650.5 205.0L650.8 205.0L651.0 205.2L651.1 204.8L651.3 203.6L651.4 205.2L651.6 205.8L651.7 204.5L651.9 205.3L652.0 204.0L652.1 203.8L652.3 203.3L652.6 205.6L652.7 203.2L652.9 203.6L653.0 203.2L653.2 204.0L653.3 204.2L653.5 203.8L653.6 205.0L653.7 202.8L653.9 203.8L654.0 203.6L654.2 202.8L654.3 203.4L654.5 202.0L654.6 202.8L654.8 200.5L654.9 201.0L655.1 201.1L655.4 201.0L655.5 201.1L655.6 201.7L655.8 200.5L655.9 200.3L656.2 199.1L656.4 200.1L656.8 198.3L657.1 195.7L657.2 197.5L657.4 196.9L657.5 197.3L657.7 197.1L657.8 196.2L658.0 197.4L658.1 197.3L658.4 198.5L658.6 197.6L658.7 198.8L658.9 197.9L659.0 200.1L659.3 198.8L659.4 200.7L659.7 199.9L660.0 202.1L660.2 202.1L660.3 201.9L660.5 202.8L660.6 202.9L660.7 202.7L660.9 203.9L661.0 202.1L661.2 203.9L661.3 203.6L661.5 203.7L661.6 202.9L661.8 204.3L661.9 202.7L662.1 203.0L662.2 203.9L662.4 205.4L662.5 205.5L662.6 204.8L663.1 204.0L663.4 204.9L663.5 204.7L663.7 206.5L663.8 204.3L664.0 206.2L664.1 206.5L664.2 205.7L664.4 205.5L664.5 206.1L664.7 205.4L665.0 204.9L665.1 205.0L665.3 205.7L665.6 204.5L665.7 205.6L665.9 205.5L666.0 206.9L666.3 204.0L666.6 205.6L666.7 204.6L667.0 204.5L667.2 206.3L667.3 206.3L667.5 205.0L667.7 205.2L667.9 206.6L668.2 204.2L668.3 204.7L668.5 203.8L668.6 205.3L668.8 205.5L668.9 204.3L669.1 204.9L669.2 207.2L669.4 206.7L669.5 205.4L669.6 206.0L669.8 204.4L670.1 204.7L670.2 205.9L670.4 205.8L670.5 205.1L670.7 205.9L670.8 205.2L671.0 205.5L671.1 205.1" fill="none" stroke="#e03048" stroke-width="1.00" stroke-linejoin="round" /><path d="M379.5 206.0L379.6 205.1L379.8 205.9L379.9 206.0L380.1 206.7L380.4 204.5L380.5 205.2L380.7 204.5L380.8 205.4L381.0 205.2L381.1 205.5L381.2 207.5L381.4 204.7L381.5 205.1L381.7 205.1L381.8 207.5L382.0 207.6L382.4 205.3L382.6 205.7L382.7 205.1L382.9 206.3L383.0 205.3L383.1 205.2L383.3 206.4L383.4 203.8L383.6 205.0L383.7 204.3L383.9 206.3L384.0 206.4L384.3 205.7L384.5 204.9L384.9 206.7L385.0 206.2L385.2 204.3L385.3 206.5L385.5 205.3L385.6 205.1L385.8 207.2L386.1 204.2L386.2 207.8L386.4 205.9L386.5 205.7L386.6 206.5L386.8 205.0L386.9 205.6L387.1 207.2L387.2 204.7L387.4 204.8L387.7 204.0L387.8 205.2L388.0 205.4L388.1 207.0L388.2 204.9L388.4 206.2L388.5 206.0L388.7 206.9L389.0 206.1L389.1 204.1L389.3 207.7L389.4 207.1L389.7 203.9L389.9 204.9L390.0 207.6L390.1 208.2L390.3 205.1L390.4 206.3L390.6 206.7L390.7 204.4L390.9 204.3L391.0 205.3L391.2 205.2L391.3 205.0L391.5 203.7L391.6 204.8L391.7 204.9L391.9 204.8L392.0 207.1L392.2 204.0L392.5 204.8L392.6 207.6L392.9 204.5L393.1 207.4L393.4 204.3L393.5 206.8L393.6 203.6L393.9 205.5L394.2 204.6L394.4 205.2L394.5 204.1L394.7 206.0L394.8 205.8L395.0 204.2L395.2 206.3L395.4 204.3L395.5 203.7L395.7 205.8L395.8 206.8L396.0 205.4L396.1 205.4L396.3 205.6L396.4 203.7L396.6 206.4L396.7 203.9L396.9 206.6L397.0 206.1L397.1 204.5L397.3 204.0L397.6 204.8L397.7 205.0L397.9 205.0L398.0 204.6L398.2 205.4L398.5 204.5L398.6 205.1L398.7 204.3L398.9 204.5L399.0 203.0L399.2 204.8L399.3 205.5L399.5 205.5L399.6 205.1L399.8 204.1L399.9 205.4L400.2 203.1L400.3 207.7L400.6 204.7L400.8 204.5L400.9 204.7L401.1 205.4L401.2 204.2L401.4 204.6L401.5 205.4L401.7 202.3L401.8 204.5L402.0 205.4L402.1 204.9L402.2 205.0L402.4 204.8L402.5 207.6L402.8 203.7L403.0 205.9L403.3 203.7L403.4 203.7L403.6 203.0L403.7 206.4L403.8 204.9L404.0 204.9L404.3 203.3L404.4 207.3L404.6 203.3L404.7 205.9L404.9 203.6L405.0 205.9L405.3 203.0L405.5 204.4L405.7 203.3L405.9 204.0L406.0 204.2L406.2 202.4L406.3 202.9L406.5 204.2L406.6 201.0L406.8 205.0L406.9 202.8L407.1 204.0L407.3 202.9L407.5 203.3L407.6 202.8L407.8 205.0L407.9 204.9L408.1 202.6L408.2 204.2L408.4 204.2L408.5 204.6L408.7 201.6L408.8 202.1L409.0 201.2L409.1 203.6L409.2 202.6L409.4 203.6L409.5 201.6L409.7 200.6L409.8 203.0L410.0 200.4L410.1 200.8L410.3 201.9L410.4 203.6L410.6 199.9L410.7 201.3L410.8 201.6L411.0 200.4L411.1 200.2L411.3 198.9L411.4 201.2L411.6 198.8L411.7 198.2L411.9 197.9L412.0 199.3L412.2 199.6L412.3 197.4L412.5 198.0L412.6 197.6L412.7 195.8L413.0 198.6L413.2 196.1L413.3 197.0L413.5 193.6L413.6 193.3L413.8 193.4L414.1 189.8L414.2 189.3L414.3 186.6L414.5 186.4L414.9 178.4L415.1 178.1L415.2 173.6L415.4 173.1L415.7 165.4L415.8 157.9L415.9 155.3L416.5 131.0L417.8 67.2L418.0 65.5L418.3 57.9L418.4 57.9L418.7 61.8L418.9 66.5L419.4 90.9L420.0 122.8L420.6 149.3L420.8 152.1L421.1 164.0L421.2 165.6L421.5 175.7L421.8 179.1L421.9 182.2L422.1 183.2L422.5 188.7L422.7 189.1L422.9 192.1L423.1 195.5L423.2 193.4L423.4 193.7L423.5 196.0L423.7 196.8L423.8 194.9L424.0 199.0L424.3 195.8L424.4 199.5L424.7 197.4L424.8 199.7L425.0 199.3L425.1 199.2L425.3 201.2L425.4 200.7L425.7 200.2L426.2 202.6L426.3 202.1L426.4 201.1L426.7 203.1L426.9 203.2L427.0 199.9L427.2 201.5L427.3 202.1L427.5 205.4L427.6 202.4L427.8 202.6L427.9 201.6L428.1 202.9L428.2 203.4L428.3 203.0L428.5 205.4L428.6 202.6L428.9 204.5L429.1 202.6L429.2 202.2L429.4 205.3L429.7 203.8L429.8 204.0L430.1 205.2L430.2 202.3L430.5 205.6L430.7 205.8L430.8 202.9L431.0 203.6L431.1 202.8L431.4 205.5L431.6 204.5L431.7 206.8L431.8 205.5L432.1 204.3L432.3 205.6L432.6 204.5L432.7 204.6L432.9 204.4L433.2 205.3L433.3 204.3L433.6 205.9L433.7 205.7L433.9 205.1L434.0 205.3L434.2 205.0L434.3 205.2L434.5 205.1L434.6 205.4L434.8 206.5L434.9 204.9L435.0 204.3L435.3 205.5L435.5 204.9L435.8 207.1L435.9 205.3L436.1 206.2L436.2 204.7L436.5 207.8L436.8 203.9L437.1 206.7L437.2 206.1L437.4 204.9L437.5 205.0L437.7 205.3L437.8 204.0L438.1 205.5L438.4 203.9L438.5 204.6L438.7 204.5L438.8 206.5L439.1 204.8L439.3 205.8L439.4 204.5L439.6 205.0L439.7 204.7L439.9 205.7L440.0 203.1L440.3 205.7L440.4 205.4L440.6 203.1L440.7 205.8L440.9 204.7L441.0 204.6L441.3 206.6L441.5 205.3L441.6 205.1L441.8 204.4L441.9 204.7L442.0 205.4L442.2 204.6L442.5 205.1L442.8 205.4L442.9 204.5L443.1 206.0L443.4 204.8L443.5 206.0L443.7 204.9L443.8 206.2L444.1 203.4L444.2 203.2L444.4 203.5L444.5 203.4L444.7 204.2L444.8 201.0L445.0 202.0L445.1 201.2L445.3 202.9L445.4 202.1L445.5 203.6L445.7 201.2L445.8 201.1L446.0 203.9L446.1 202.4L446.3 202.0L446.4 204.4L446.6 204.7L446.7 204.3L446.9 204.1L447.0 205.1L447.2 204.0L447.3 204.0L447.4 203.8L447.6 204.0L447.7 203.4L447.9 203.8L448.0 206.2L448.2 205.6L448.3 206.1L448.5 206.2L448.6 205.4L448.8 205.4L448.9 205.0L449.0 206.9L449.2 206.6L449.3 205.5L449.6 205.8L449.8 205.6L449.9 206.3L450.1 205.0L450.5 206.2L450.7 205.8L450.8 208.1L451.1 205.6L451.2 207.0L451.4 205.5L451.5 205.5L451.7 206.9L451.8 205.9L452.0 206.0L452.1 205.3L452.3 205.1L452.5 206.4L452.7 205.8L452.8 205.7L453.0 205.0L453.1 205.4L453.4 206.9L453.6 206.0L453.9 206.6L454.0 205.8L454.1 206.1L454.4 205.2L454.6 206.0L454.7 203.6L454.9 205.9L455.0 204.6L455.2 205.5L455.3 204.6L455.5 207.7L455.8 205.3L455.9 205.0L456.0 203.5L456.2 205.2L456.3 204.4L456.5 204.8L456.6 204.7L456.9 205.6L457.1 205.0L457.2 206.4L457.4 204.4L457.5 206.3L457.8 203.5L457.9 205.5L458.1 205.3L458.2 204.3L458.5 205.9L458.7 205.0L459.0 204.5L459.1 205.8L459.3 203.5L459.4 203.6L459.5 205.0L459.7 204.7L459.8 205.3L460.0 203.7L460.1 205.4L460.3 204.2L460.4 205.1L460.6 205.3L460.7 204.0L460.9 203.4L461.0 204.5L461.1 205.0L461.3 203.7L461.4 204.3L461.6 203.9L461.7 202.8L461.9 203.0L462.0 204.3L462.2 201.8L462.3 203.7L462.5 202.8L462.6 203.9L462.8 203.2L462.9 204.5L463.0 201.3L463.2 201.4L463.3 203.4L463.5 203.3L463.6 203.1L463.8 200.3L463.9 201.3L464.4 199.3L464.5 199.4L464.6 197.6L464.8 198.0L465.2 193.0L465.5 191.3L465.7 188.8L465.8 187.6L466.0 184.1L466.4 179.8L467.4 165.6L467.6 167.3L467.7 166.5L467.9 164.4L468.0 169.0L468.1 168.9L468.3 169.7L468.6 173.0L469.2 180.8L469.3 185.0L469.6 187.2L469.9 191.4L470.0 191.5L470.2 193.9L470.3 194.1L470.8 197.2L471.1 200.3L471.2 199.8L471.4 200.0L471.5 201.3L471.6 201.4L471.8 201.1L471.9 202.8L472.2 201.1L472.4 203.3L472.5 202.9L472.7 203.4L472.8 202.1L473.0 203.3L473.1 203.0L473.2 204.4L473.4 204.0L473.5 204.1L473.7 205.7L473.8 203.1L474.0 203.7L474.1 205.9L474.3 204.0L474.4 204.8L474.6 204.3L474.7 204.4L474.9 206.0L475.1 203.6L475.3 205.3L475.6 206.0L475.7 205.9L476.0 203.4L476.2 204.4L476.3 204.6L476.5 202.9L476.6 205.0L476.7 205.1L476.9 204.0L477.0 203.8L477.2 204.9L477.3 204.8L477.5 203.4L477.6 203.1L477.8 204.0L477.9 202.8L478.1 202.6L478.2 201.4L478.4 201.4L478.5 200.9L478.6 200.7L478.8 199.2L478.9 198.7L479.1 200.0L479.2 199.0L479.4 200.4L479.5 199.9L479.8 199.4L480.0 201.3L480.2 201.6L480.4 203.2L480.5 202.3L480.7 203.0L480.8 202.3L481.1 204.4L481.3 202.8L481.4 202.6L481.6 203.2L481.7 201.9L481.9 202.7L482.0 202.8L482.1 201.8L482.3 203.2L482.7 200.3L482.9 200.7L483.0 199.8L483.2 200.0L483.5 196.7L483.6 197.7L483.7 194.3L483.9 195.5L484.3 189.8L484.5 189.8L484.6 188.5L485.2 174.9L485.4 173.9L485.9 160.9L486.1 160.5L486.2 157.4L486.4 157.9L486.5 153.1L486.7 153.3L486.8 152.2L487.0 151.8L489.1 191.1L489.3 190.7L489.6 195.5L489.7 195.1L490.0 199.2L490.2 197.5L490.3 199.2L490.5 199.4L490.7 201.2L490.9 202.7L491.0 201.1L491.3 202.7L491.5 202.4L491.6 202.8L491.8 202.6L491.9 203.6L492.1 203.5L492.2 205.2L492.3 204.0L492.6 202.9L492.8 204.3L492.9 204.3L493.1 203.0L493.2 204.6L493.5 203.2L493.7 204.5L493.8 203.7L494.0 205.2L494.1 204.6L494.2 204.8L494.4 204.7L494.7 203.0L494.8 205.3L495.0 205.3L495.1 204.5L495.3 205.7L495.4 204.5L495.6 204.5L495.7 205.1L495.8 204.6L496.0 206.1L496.1 204.4L496.3 206.1L496.4 205.5L496.7 205.3L496.9 204.4L497.2 205.4L497.5 203.9L497.6 205.1L497.7 204.8L497.9 204.2L498.2 206.0L498.3 203.2L498.5 203.4L498.6 206.5L498.8 205.0L499.1 204.2L499.2 204.4L499.5 205.6L499.8 204.0L499.9 205.4L500.1 205.3L500.2 204.5L500.4 205.8L500.5 204.4L500.7 204.4L500.8 203.6L501.0 204.2L501.1 204.2L501.4 203.1L501.5 203.3L502.1 200.3L502.3 201.8L502.4 201.2L502.6 202.4L502.7 198.8L502.8 200.4L503.1 198.9L503.3 200.0L503.4 198.5L503.6 198.8L503.7 200.0L503.9 198.5L504.0 197.9L504.2 200.3L504.3 198.6L504.5 199.3L504.6 199.4L504.7 199.7L504.9 199.4L505.0 200.9L505.2 200.5L505.3 201.8L505.5 201.3L505.6 202.7L505.8 202.5L505.9 201.5L506.3 204.4L506.5 204.3L506.8 203.5L506.9 204.0L507.1 204.1L507.2 204.7L507.4 203.8L507.5 205.1L507.7 205.3L507.8 204.4L507.9 205.1L508.2 205.6L508.4 205.5L508.5 204.9L508.7 205.1L508.8 206.3L509.0 205.1L509.1 205.3L509.3 206.2L509.4 205.0L509.6 205.7L509.7 205.8L509.8 205.0L510.0 204.7L510.1 206.1L510.3 205.3L510.4 206.3L510.6 204.0L510.7 206.0L510.9 204.8L511.0 206.1L511.3 204.1L511.4 207.5L511.6 206.0L511.7 205.3L512.0 206.2L512.2 204.2L512.5 206.8L512.6 205.1L512.8 206.9L512.9 204.8L513.1 206.0L513.3 204.7L513.6 206.5L513.8 206.7L513.9 204.7L514.1 204.9L514.2 206.0L514.4 204.7L514.5 204.9L514.7 204.7L514.8 206.7L515.1 204.2L515.2 204.2L515.4 203.9L515.5 206.1L515.7 204.0L515.8 203.6L516.0 201.9L516.1 204.1L516.6 202.1L516.7 202.9L516.8 201.6L517.0 202.8L517.1 202.0L517.3 202.6L517.4 202.2L517.7 203.7L517.9 202.0L518.2 203.7L518.4 203.1L518.6 204.7L518.9 204.0L519.0 204.2L519.3 206.3L519.5 204.1L519.6 204.8L519.9 205.4L520.1 205.1L520.3 206.1L520.6 205.9L520.8 205.9L520.9 206.3L521.1 205.1L521.2 206.4L521.4 205.1L521.5 206.3L521.8 204.6L522.1 206.1L522.2 205.5L522.4 205.4L522.5 206.7L522.8 205.4L523.0 205.8L523.3 205.0L523.6 204.8L523.7 205.0L523.8 205.6L524.0 205.4L524.1 205.6L524.3 205.6L524.4 205.5L524.6 206.5L524.7 205.5L524.9 205.3L525.0 205.9L525.3 204.8L525.4 205.2L525.6 203.6L525.7 206.9L525.9 205.1L526.0 206.2L526.3 203.0L526.5 206.5L526.6 204.6L526.8 204.3L526.9 204.8L527.0 204.1L527.2 206.0L527.3 203.7L527.8 204.3L527.9 203.3L528.1 203.9L528.2 203.2L528.4 203.5L528.5 204.4L528.7 202.5L528.9 201.3L529.1 202.0L529.4 200.0L529.5 199.8L529.8 197.2L530.0 198.5L530.1 198.5L530.3 195.7L530.4 194.3L530.7 192.9L530.8 192.9L531.0 191.9L531.1 189.7L531.3 189.9L531.4 189.5L531.6 187.9L531.7 184.4L531.9 184.0L532.0 185.0L532.3 183.2L532.4 183.6L532.6 182.1L532.9 184.1L533.0 182.9L533.2 184.9L533.3 185.1L533.6 187.4L533.8 187.9L534.2 192.9L534.6 194.4L534.9 195.8L535.2 198.3L535.4 198.9L535.5 200.6L535.7 199.8L535.8 199.9L536.2 201.7L536.4 201.3L536.5 202.2L536.7 202.0L537.0 202.9L537.1 202.3L537.3 203.8L537.4 203.8L537.5 204.3L537.7 204.4L537.8 202.9L538.0 202.8L538.1 204.1L538.4 203.5L538.6 203.8L538.7 203.6L538.9 205.4L539.3 203.6L539.6 205.3L539.7 205.0L540.0 205.4L540.2 203.7L540.3 205.3L540.5 204.8L540.6 203.3L541.0 205.2L541.3 203.6L541.5 204.2L541.6 203.7L541.8 204.5L541.9 204.1L542.1 204.5L542.4 203.3L542.5 205.0L542.7 203.9L542.8 203.6L542.9 204.0L543.1 203.6L543.4 201.6L543.5 202.3L543.7 202.3L543.8 203.4L544.0 200.8L544.1 201.9L544.3 201.9L544.4 202.6L544.5 201.8L544.7 202.5L544.8 201.7L545.0 201.5L545.1 202.0L545.3 202.0L545.4 203.0L545.6 201.6L545.9 204.3L546.0 203.4L546.3 204.4L546.6 203.9L546.7 205.1L547.0 203.6L547.3 204.9L547.5 204.8L547.6 205.1L547.8 205.1L547.9 204.6L548.0 205.3L548.2 207.0L548.3 205.3L548.5 206.0L548.6 204.9L548.8 205.9L548.9 205.4L549.1 204.0L549.2 206.2L549.4 206.3L549.5 206.5L549.6 207.2L549.8 206.9L549.9 205.3L550.2 206.9L550.4 206.7L550.5 205.2L550.7 206.2L550.8 205.9L551.3 204.3L551.5 205.6L551.7 205.5L551.8 204.4L552.0 204.7L552.1 205.9L552.3 205.4L552.4 205.5L552.6 205.6L552.9 206.6L553.0 206.1L553.1 206.8L553.3 204.8L553.4 205.3L553.6 206.5L553.7 204.7L553.9 205.1L554.0 207.0L554.2 204.4L554.3 205.1L554.5 204.2L554.6 206.5L554.8 205.3L555.0 205.5L555.2 205.5L555.3 204.9L555.5 206.7L555.6 206.5L555.8 206.6L555.9 206.0L556.1 206.0L556.2 205.3L556.5 205.5L556.6 206.0L556.8 205.9L556.9 204.9L557.1 205.0L557.4 205.7L557.5 204.4L557.7 205.9L557.8 205.0L558.0 204.6L558.1 205.6L558.3 204.8L558.4 206.1L558.5 204.6L558.7 205.1L558.8 206.4L559.0 204.7L559.1 205.8L559.3 204.2L559.4 205.6L559.7 204.8L559.9 205.1L560.0 204.7L560.1 205.2L560.3 204.2L560.4 204.6L560.6 204.3L560.7 206.3L560.9 203.4L561.2 205.1L561.3 203.6L561.6 202.4L561.8 203.7L561.9 201.5L562.0 202.3L562.2 200.2L562.3 201.5L562.5 200.5L562.6 200.8L562.8 200.8L562.9 198.7L563.1 198.2L563.2 197.1L563.4 197.0L563.5 197.4L563.6 197.5L563.8 196.1L564.1 195.1L564.2 193.6L564.4 193.3L564.5 193.4L564.7 192.8L564.8 192.9L565.1 192.5L565.2 192.6L565.5 195.2L565.7 193.7L565.8 195.2L566.0 195.1L566.1 197.7L566.3 197.4L566.4 197.8L566.6 199.4L566.7 199.4L566.9 199.1L567.1 199.5L567.3 201.7L567.4 202.5L567.6 201.6L567.7 201.7L568.0 203.9L568.2 202.7L568.5 203.3L568.6 204.2L568.9 203.7L569.2 205.8L569.3 204.4L569.5 204.4L569.6 204.8L569.8 204.3L569.9 205.4L570.1 205.1L570.2 205.3L570.5 204.0L570.6 205.4L570.8 203.8L571.1 204.8L571.2 204.9L571.4 204.1L571.5 205.5L571.7 205.5L571.8 206.2L572.1 204.5L572.2 205.1L572.4 205.2L572.5 205.7L572.7 205.4L572.8 206.6L573.0 204.8L573.1 205.9L573.3 206.4L573.4 206.1L573.6 206.2L573.7 205.0L573.9 204.9L574.0 206.6L574.1 205.0L574.3 205.0L574.6 206.7L574.7 206.2L574.9 206.1L575.0 205.4L575.2 205.9L575.3 207.1L575.5 205.5L575.6 206.7L575.7 205.0L575.9 206.5L576.0 206.2L576.2 206.3L576.3 206.1L576.5 204.8L576.9 205.4L577.1 206.7L577.2 206.0L577.4 206.0L577.5 206.3L577.6 205.3L577.8 206.1L577.9 206.1L578.1 206.3L578.2 207.0L578.4 205.2L578.5 204.6L579.0 207.4L579.1 205.4L579.2 204.7L579.4 205.3L579.7 204.4L579.8 204.7L580.0 205.7L580.1 204.7L580.3 204.8L580.4 206.4L580.6 205.6L580.7 206.3L581.0 204.8L581.3 206.6L581.4 204.2L581.6 204.8L581.7 204.0L581.9 205.9L582.0 204.2L582.2 203.4L582.3 203.4L582.5 204.9L582.6 204.5L582.7 204.7L582.9 203.8L583.0 203.6L583.3 205.1L583.5 203.5L583.6 204.1L583.8 203.2L583.9 203.3L584.1 202.1L584.2 202.2L584.3 203.1L584.6 201.0L584.8 202.3L585.1 200.4L585.2 200.0L585.4 200.1L585.5 200.9L585.7 200.5L585.8 198.9L586.0 198.3L586.1 196.3L586.2 198.2L586.4 196.2L586.5 196.0L586.7 197.1L587.0 194.8L587.1 194.8L587.4 193.2L587.6 193.7L587.7 192.5L587.8 193.0L588.0 192.8L588.1 192.0L588.3 192.8L588.6 191.5L588.7 192.8L588.9 193.3L589.0 193.0L589.2 194.2L589.3 193.6L589.5 195.7L589.6 194.9L589.9 196.9L590.0 195.5L590.2 197.8L590.3 196.4L590.5 197.6L590.6 197.4L590.8 199.5L590.9 198.3L591.1 198.3L591.2 199.7L591.3 199.9L591.5 198.2L591.6 199.9L591.8 200.5L591.9 200.7L592.1 200.0L592.4 200.2L592.5 199.2L592.7 200.7L593.0 199.8L593.1 201.7L593.2 200.5L593.4 200.2L593.5 202.8L593.8 203.2L594.0 204.0L594.1 202.7L594.3 204.6L594.4 203.2L594.6 202.8L594.7 205.2L594.8 204.5L595.0 205.8L595.1 204.0L595.3 205.2L595.7 204.6L595.9 205.3L596.0 205.1L596.2 205.6L596.3 205.2L596.5 206.1L596.6 205.3L596.7 206.7L597.0 204.1L597.3 206.4L597.5 205.3L597.8 206.7L598.1 205.0L598.3 205.6L598.5 206.2L598.6 206.3L598.8 204.6L599.2 206.9L599.4 206.4L599.5 203.6L599.7 206.1L599.8 205.3L599.9 205.1L600.1 205.2L600.2 205.2L600.4 205.9L600.5 205.6L600.7 203.5L600.8 205.1L601.0 203.8L601.1 205.4L601.3 204.2L601.6 202.8L601.7 204.1L601.8 202.6L602.0 202.4L602.1 202.9L602.3 201.7L602.4 202.3L602.6 201.9L602.7 201.0L602.9 202.5L603.0 200.4L603.2 200.7L603.3 200.7L603.6 198.7L603.7 199.4L603.9 198.2L604.0 199.9L604.2 200.1L604.3 198.2L604.5 199.2L604.6 199.1L604.8 200.6L604.9 199.8L605.1 200.5L605.2 200.6L605.3 201.4L605.5 200.9L605.6 202.5L605.9 203.7L606.1 202.2L606.2 203.8L606.4 204.2L606.5 204.4L606.7 204.2L606.8 205.0L606.9 204.5L607.1 204.9L607.2 205.0L607.4 205.4L607.5 204.8L607.7 205.2L607.8 204.9L608.1 204.8L608.3 206.6L608.4 205.5L608.6 205.7L608.7 204.6L608.8 206.3L609.1 205.4L609.3 205.4L609.4 204.5L609.6 205.4L609.7 204.4L609.9 206.1L610.0 206.3L610.2 204.1L610.3 204.6L610.4 204.5L610.6 204.7L610.7 204.4L610.9 205.5L611.0 203.8L611.2 204.8L611.3 203.6L611.5 204.1L611.6 205.4L611.8 204.7L611.9 202.8L612.1 203.5L612.2 203.4L612.3 202.7L612.5 202.8L612.6 202.6L612.9 201.3L613.1 199.9L613.2 200.4L613.4 198.6L613.7 197.5L613.8 197.3L613.9 197.3L614.4 195.5L614.5 194.2L614.7 193.7L614.8 191.3L615.1 191.0L615.3 191.2L615.4 189.0L615.8 187.8L616.0 188.2L616.1 185.9L616.3 186.2L616.4 184.3L616.6 186.3L616.7 186.7L616.9 186.0L617.0 187.5L617.4 190.2L617.6 189.6L617.7 190.8L617.9 191.2L618.0 193.5L618.2 194.1L618.3 195.6L618.5 195.1L618.6 197.5L618.8 196.8L619.0 197.6L619.2 199.8L619.3 199.0L619.5 200.7L619.8 202.1L619.9 200.7L620.1 200.8L620.2 202.7L620.4 203.1L620.5 203.0L620.7 201.3L621.1 204.9L621.4 203.0L621.5 202.7L621.7 204.3L621.8 204.7L622.0 204.6L622.1 205.7L622.3 203.8L622.4 205.2L622.5 203.7L622.7 205.7L622.8 205.4L623.0 204.3L623.1 205.1L623.3 204.0L623.6 205.3L623.7 204.0L623.9 203.8L624.0 205.7L624.2 203.0L624.3 203.8L624.4 203.5L624.6 205.2L624.7 204.3L624.9 203.9L625.0 202.7L625.2 204.3L625.3 203.7L625.5 204.3L625.6 202.8L625.8 202.2L625.9 203.5L626.3 200.7L626.8 202.6L627.1 202.4L627.2 202.0L627.4 202.3L627.5 201.3L627.8 203.7L627.9 202.1L628.5 205.3L628.7 204.9L628.8 203.7L629.0 205.1L629.1 205.6L629.3 204.6L629.4 204.7L629.5 204.6L629.7 204.6L629.8 204.2L630.0 205.8L630.1 204.6L630.3 206.0L630.4 204.9L630.6 205.3L630.7 205.3L630.9 204.8L631.0 205.5L631.2 204.8L631.3 204.9L631.6 206.0L631.7 206.1L632.2 205.7L632.3 203.6L632.5 205.2L632.6 205.1L632.8 206.3L632.9 206.2L633.2 205.5L633.3 206.4L633.5 204.6L633.6 206.1L633.8 204.9L633.9 207.3L634.1 205.7L634.2 205.5L634.4 205.5L634.5 205.3L634.6 205.5L634.8 205.6L634.9 207.0L635.1 206.2L635.2 207.3L635.4 205.2L635.8 206.2L636.0 206.0L636.1 204.3L636.3 204.4L636.4 205.6L636.5 204.6L636.7 206.7L636.8 206.9L637.0 205.8L637.1 206.1L637.3 205.8L637.4 205.3L637.6 203.3L637.7 205.8L637.9 205.3L638.0 205.1L638.1 205.3L638.4 203.9L638.6 206.0L638.7 205.0L638.9 205.2L639.0 204.7L639.2 206.0L639.3 206.0L639.5 206.3L639.6 204.2L639.8 204.4L639.9 204.3L640.0 205.9L640.2 204.4L640.3 204.5L640.5 204.8L640.6 204.2L640.8 202.9L640.9 202.8L641.1 202.9L641.2 202.3L641.4 202.8L641.8 201.1L641.9 201.2L642.2 200.5L642.4 200.4L642.5 198.0L642.7 198.8L642.8 198.5L643.0 196.7L643.1 197.0L643.3 198.6L643.4 196.7L643.5 196.2L643.7 195.1L644.0 195.4L644.1 196.6L644.3 196.2L644.4 195.4L644.6 195.2L644.7 196.4L644.9 196.1L645.0 196.3L645.1 196.2L645.3 196.3L645.6 198.1L645.7 196.7L645.9 196.9L646.0 198.5L646.2 198.1L646.3 198.9L646.6 199.6L646.8 200.9L646.9 200.3L647.0 200.4L647.2 202.0L647.3 200.3L647.5 200.5L647.6 201.0L647.8 201.1L648.1 203.2L648.4 204.0L648.5 203.5L648.6 203.7L648.8 203.4L648.9 205.4L649.1 202.5L649.2 202.6L649.4 204.3L649.5 203.9L649.8 204.3L650.0 204.7L650.1 204.7L650.3 205.2L650.4 204.5L650.5 204.7L650.7 204.5L650.8 205.3L651.0 204.7L651.1 204.7L651.3 204.3L651.4 205.4L651.6 204.4L651.7 204.0L651.9 204.2L652.0 204.8L652.1 204.9L652.3 204.7L652.6 203.3L652.7 204.4L652.9 204.7L653.0 203.9L653.2 203.9L653.3 204.6L653.5 204.3L653.7 203.1L653.9 204.2L654.0 203.9L654.2 202.7L654.3 203.7L654.5 202.5L654.6 202.1L654.8 202.2L654.9 202.6L655.1 201.7L655.2 201.6L655.4 200.8L655.5 201.3L655.6 199.6L655.8 201.3L655.9 199.9L656.1 199.4L656.2 198.4L656.4 199.2L656.5 198.1L656.7 198.6L657.0 196.5L657.1 197.9L657.2 197.1L657.4 198.0L657.5 196.6L657.7 196.5L658.0 198.3L658.1 197.4L658.3 197.1L658.6 197.8L658.7 200.0L658.9 199.5L659.0 198.3L659.1 200.5L659.3 199.2L659.4 199.0L659.6 200.1L659.7 200.2L660.0 202.4L660.2 201.9L660.5 202.4L660.6 202.1L660.7 202.9L661.0 203.0L661.2 203.5L661.3 202.3L661.5 203.5L661.9 204.6L662.1 203.4L662.4 205.3L662.6 204.8L662.8 205.0L662.9 204.0L663.1 205.7L663.2 204.6L663.4 204.9L663.5 205.8L663.7 205.0L663.8 205.2L664.0 204.8L664.1 205.5L664.2 205.0L664.4 206.4L664.5 206.0L664.7 204.7L664.8 204.6L665.1 205.7L665.3 204.6L665.4 206.8L665.7 204.9L665.9 205.0L666.1 206.8L666.3 204.4L666.6 206.1L666.9 204.9L667.0 207.3L667.2 204.7L667.3 205.0L667.5 207.0L667.6 205.0L667.7 206.8L667.9 204.8L668.0 205.3L668.2 204.0L668.3 206.0L668.6 204.9L668.8 206.1L668.9 206.1L669.2 205.7L669.4 206.4L669.5 205.3L669.6 205.3L669.8 205.6L669.9 204.5L670.1 205.9L670.2 204.7L670.4 206.0L670.5 205.1L670.7 207.0L670.8 205.5L671.1 206.0" fill="none" stroke="#3424c0" stroke-width="0.95" stroke-linejoin="round" opacity="0.85"/><rect x="379.90" y="7.30" width="300.50" height="209.30" fill="none" stroke="#000" stroke-width="1.8"/><line x1="379.90" y1="204.70" x2="384.30" y2="204.70" stroke="#000" stroke-width="1.50"/><text x="374.20" y="209.00" font-size="10.20" text-anchor="end" fill="#000" >0</text><line x1="379.90" y1="182.75" x2="382.50" y2="182.75" stroke="#000" stroke-width="1.50"/><line x1="379.90" y1="160.80" x2="384.30" y2="160.80" stroke="#000" stroke-width="1.50"/><text x="374.20" y="165.10" font-size="10.20" text-anchor="end" fill="#000" >2000</text><line x1="379.90" y1="138.85" x2="382.50" y2="138.85" stroke="#000" stroke-width="1.50"/><line x1="379.90" y1="116.90" x2="384.30" y2="116.90" stroke="#000" stroke-width="1.50"/><text x="374.20" y="121.20" font-size="10.20" text-anchor="end" fill="#000" >4000</text><line x1="379.90" y1="94.95" x2="382.50" y2="94.95" stroke="#000" stroke-width="1.50"/><line x1="379.90" y1="73.00" x2="384.30" y2="73.00" stroke="#000" stroke-width="1.50"/><text x="374.20" y="77.30" font-size="10.20" text-anchor="end" fill="#000" >6000</text><line x1="379.90" y1="51.05" x2="382.50" y2="51.05" stroke="#000" stroke-width="1.50"/><line x1="379.90" y1="29.10" x2="384.30" y2="29.10" stroke="#000" stroke-width="1.50"/><text x="374.20" y="33.40" font-size="10.20" text-anchor="end" fill="#000" >8000</text><line x1="379.50" y1="216.60" x2="379.50" y2="212.20" stroke="#000" stroke-width="1.50"/><text x="379.50" y="229.70" font-size="10.20" text-anchor="middle" fill="#000" >20</text><line x1="403.80" y1="216.60" x2="403.80" y2="214.00" stroke="#000" stroke-width="1.50"/><line x1="428.10" y1="216.60" x2="428.10" y2="212.20" stroke="#000" stroke-width="1.50"/><text x="428.10" y="229.70" font-size="10.20" text-anchor="middle" fill="#000" >30</text><line x1="452.40" y1="216.60" x2="452.40" y2="214.00" stroke="#000" stroke-width="1.50"/><line x1="476.70" y1="216.60" x2="476.70" y2="212.20" stroke="#000" stroke-width="1.50"/><text x="476.70" y="229.70" font-size="10.20" text-anchor="middle" fill="#000" >40</text><line x1="501.00" y1="216.60" x2="501.00" y2="214.00" stroke="#000" stroke-width="1.50"/><line x1="525.30" y1="216.60" x2="525.30" y2="212.20" stroke="#000" stroke-width="1.50"/><text x="525.30" y="229.70" font-size="10.20" text-anchor="middle" fill="#000" >50</text><line x1="549.60" y1="216.60" x2="549.60" y2="214.00" stroke="#000" stroke-width="1.50"/><line x1="573.90" y1="216.60" x2="573.90" y2="212.20" stroke="#000" stroke-width="1.50"/><text x="573.90" y="229.70" font-size="10.20" text-anchor="middle" fill="#000" >60</text><line x1="598.20" y1="216.60" x2="598.20" y2="214.00" stroke="#000" stroke-width="1.50"/><line x1="622.50" y1="216.60" x2="622.50" y2="212.20" stroke="#000" stroke-width="1.50"/><text x="622.50" y="229.70" font-size="10.20" text-anchor="middle" fill="#000" >70</text><line x1="646.80" y1="216.60" x2="646.80" y2="214.00" stroke="#000" stroke-width="1.50"/><line x1="671.10" y1="216.60" x2="671.10" y2="212.20" stroke="#000" stroke-width="1.50"/><text x="671.10" y="229.70" font-size="10.20" text-anchor="middle" fill="#000" >80</text><text x="529.80" y="245.90" font-size="10.70" text-anchor="middle" fill="#000" >2 Theta (Deg.)</text><text x="0.00" y="0.00" font-size="10.20" text-anchor="middle" fill="#000" transform="translate(341.8,108.7) rotate(-90)">Intensity (a.u.)</text><rect x="538.5" y="10.8" width="137.5" height="24.4" fill="#fff" stroke="#8a8a8a" stroke-width="0.9"/><line x1="546.40" y1="15.90" x2="562.30" y2="15.90" stroke="#555" stroke-width="0.75"/><line x1="546.40" y1="24.10" x2="562.30" y2="24.10" stroke="#f08090" stroke-width="0.75"/><line x1="546.40" y1="32.30" x2="562.30" y2="32.30" stroke="#7070d8" stroke-width="0.75"/><text x="564.40" y="18.45" font-size="6.80" text-anchor="start" fill="#1a1a1a" stroke="#1a1a1a" stroke-width="0.15">Antimony Telluride As Purchased</text><text x="564.40" y="26.65" font-size="6.80" text-anchor="start" fill="#1a1a1a" stroke="#1a1a1a" stroke-width="0.15">Antimony Telluride Ball Milled</text><text x="564.40" y="34.85" font-size="6.80" text-anchor="start" fill="#1a1a1a" stroke="#1a1a1a" stroke-width="0.15">Antimony Telluride + Sulfur</text><rect x="536.30" y="46.20" width="139.10" height="88.70" fill="#fff"/><path d="M536.3 130.3L563.6 129.7L572.8 129.2L580.0 128.5L586.2 127.5L591.3 126.1L595.4 124.4L598.0 122.6L599.6 120.5L600.7 118.0L601.9 114.2L602.8 109.8L604.7 97.3L608.1 66.2L609.1 60.7L609.5 59.3L610.0 58.8L610.5 59.3L610.9 60.8L611.8 66.3L615.3 97.7L617.1 110.4L619.0 117.9L620.2 120.6L621.5 122.6L623.8 124.5L627.1 126.0L631.7 127.3L637.2 128.3L643.7 129.0L651.8 129.5L674.9 130.2" fill="none" stroke="#b8b8b8" stroke-width="0.70" stroke-linejoin="round" /><path d="M536.3 130.2L536.8 130.2L537.2 129.6L537.7 130.5L538.1 129.9L538.6 130.5L539.1 129.5L539.5 129.7L540.0 129.4L540.5 129.9L540.9 129.6L541.8 130.0L542.3 129.7L542.8 130.1L543.7 129.5L544.6 129.8L545.1 129.0L545.5 129.7L546.0 129.8L546.5 129.6L546.9 129.8L547.8 129.7L548.3 129.0L548.8 129.6L549.2 129.5L549.7 129.4L550.2 128.9L550.6 129.6L551.1 129.7L551.5 128.8L552.0 129.9L552.9 129.3L553.4 128.8L553.9 129.7L554.3 130.1L554.8 129.2L555.2 129.5L555.7 129.5L556.2 129.2L557.1 129.2L557.6 129.4L558.0 128.9L558.5 128.8L558.9 129.2L559.4 129.3L559.9 129.0L560.3 129.0L560.8 129.4L561.2 129.2L561.7 128.8L562.2 129.1L562.6 129.1L563.1 128.9L564.0 128.9L564.5 129.5L564.9 128.3L565.4 128.8L565.9 129.1L566.3 128.5L566.8 128.6L567.3 128.7L568.2 127.9L568.6 128.4L569.1 128.1L569.6 127.8L570.0 128.7L570.5 128.5L570.9 128.1L571.4 128.8L572.3 127.8L573.3 127.9L573.7 128.6L574.2 127.2L574.6 127.7L575.1 127.6L575.6 127.6L576.0 128.1L577.0 127.8L577.4 126.8L577.9 127.5L578.3 127.2L578.8 127.1L579.3 126.8L580.2 126.6L581.1 127.3L581.6 126.1L582.0 125.9L582.5 125.5L583.0 125.6L583.4 125.6L583.9 125.0L584.3 125.3L585.3 124.6L586.2 122.9L586.7 122.9L587.1 122.3L587.6 122.1L588.0 121.6L588.5 121.2L589.0 120.6L589.4 120.6L589.9 119.5L590.4 118.7L590.8 117.3L591.3 116.4L592.2 114.2L592.7 113.7L593.6 110.6L594.0 109.9L594.5 108.3L595.4 106.2L595.9 104.1L596.4 102.8L597.7 97.3L598.2 96.2L598.7 93.2L600.1 88.6L601.0 84.6L601.9 81.4L602.4 80.6L603.3 77.1L603.8 76.5L604.2 76.2L604.7 75.4L605.6 75.0L606.1 74.4L606.5 75.2L607.0 75.4L607.4 76.5L607.9 78.0L608.4 78.9L608.8 79.4L609.3 81.8L609.8 83.4L610.2 84.4L611.1 88.3L611.6 89.7L612.1 92.5L612.5 93.7L613.5 97.8L613.9 99.4L614.4 100.5L615.3 104.7L615.8 106.0L616.2 106.7L616.7 108.3L617.1 110.3L617.6 110.5L618.1 112.5L618.5 113.9L619.9 116.1L620.8 118.5L621.8 120.3L622.2 120.5L622.7 121.3L623.2 121.6L623.6 122.6L624.1 122.8L625.0 123.9L626.4 124.9L626.9 124.7L627.3 125.1L627.8 125.8L628.2 125.4L628.7 125.7L629.2 125.6L629.6 126.2L630.1 126.4L630.5 126.7L631.0 126.6L631.5 126.6L632.4 127.1L632.9 127.0L633.3 127.2L633.8 127.3L634.2 127.7L634.7 127.5L635.2 127.9L635.6 128.0L636.1 127.7L636.6 127.2L637.5 128.0L637.9 128.1L638.4 127.8L638.9 127.7L639.3 127.8L639.8 128.3L640.2 128.3L640.7 128.5L641.2 128.5L641.6 128.7L642.1 128.6L642.6 129.2L643.0 129.0L643.5 128.5L643.9 129.0L644.4 128.5L644.9 129.1L645.8 128.7L646.3 129.2L646.7 129.1L647.2 128.2L647.6 129.2L648.6 129.2L649.0 129.0L649.5 129.1L650.0 128.8L650.4 128.9L650.9 129.3L651.3 129.3L651.8 129.6L652.3 129.7L652.7 129.4L653.2 129.0L653.6 129.2L654.1 129.0L654.6 129.0L655.0 129.4L655.5 128.7L656.0 129.5L656.9 129.5L657.3 129.1L657.8 129.5L658.3 129.7L658.7 129.3L659.2 129.1L659.7 129.5L660.1 129.6L660.6 129.2L661.5 129.2L662.0 129.8L662.4 129.5L662.9 129.5L663.3 130.1L663.8 129.2L664.3 129.6L664.7 129.7L665.2 128.9L665.7 129.6L666.1 129.9L667.0 129.5L667.5 129.4L668.4 130.0L668.9 129.9L669.8 130.0L670.3 129.7L670.7 129.9L671.2 129.7L671.7 130.0L672.1 130.0L672.6 129.8L673.1 129.9L673.5 129.4L674.0 130.1L674.4 129.7L674.9 129.8" fill="none" stroke="#e4b4cc" stroke-width="0.70" stroke-linejoin="round" /><path d="M536.3 130.2L537.2 129.5L537.7 129.5L538.1 129.6L538.6 129.9L539.1 129.8L539.5 130.0L540.0 130.3L540.5 130.0L540.9 129.6L542.3 130.2L542.8 129.9L543.2 130.0L544.2 129.7L544.6 130.5L545.1 129.8L545.5 130.2L546.0 130.1L546.5 130.1L546.9 129.4L547.8 129.6L548.3 130.0L548.8 130.2L549.2 129.8L549.7 129.6L550.2 129.7L550.6 129.5L551.1 129.8L551.5 129.1L552.0 129.5L552.5 129.0L552.9 129.5L553.9 129.8L554.3 129.3L554.8 129.3L555.2 129.5L555.7 129.4L556.2 129.6L557.1 129.6L557.6 130.0L558.5 129.4L558.9 129.4L559.4 129.1L560.8 129.3L561.2 130.0L561.7 129.3L562.2 129.6L562.6 129.1L563.1 129.3L564.0 129.4L564.5 129.3L564.9 129.7L565.4 129.6L565.9 128.7L566.8 129.2L567.7 129.1L568.2 128.0L568.6 128.8L569.6 129.0L570.0 129.5L570.5 128.7L570.9 128.3L571.4 128.4L572.8 128.9L573.3 128.5L574.2 128.8L574.6 127.9L575.1 128.6L575.6 128.4L576.0 128.9L576.5 127.6L577.0 128.1L577.9 127.8L578.3 128.1L578.8 128.0L579.3 127.6L579.7 127.8L580.7 127.0L581.1 127.1L581.6 126.8L582.0 126.8L582.5 126.4L583.0 126.7L583.4 126.5L583.9 126.8L584.3 126.4L584.8 126.4L585.3 126.0L585.7 126.1L586.2 125.4L586.7 124.5L587.1 125.3L587.6 124.6L588.0 124.2L588.5 124.3L589.0 123.7L589.4 123.4L589.9 122.6L590.4 122.4L590.8 120.9L591.3 120.8L591.7 120.1L592.2 119.0L593.1 118.1L594.0 116.1L595.0 113.6L595.4 113.3L595.9 111.9L596.8 108.4L597.3 107.1L598.2 103.3L600.1 96.6L600.5 94.1L601.4 90.5L601.9 88.0L602.8 84.3L603.3 82.8L603.8 80.3L604.2 79.2L604.7 77.4L605.1 76.1L606.1 74.3L606.5 73.8L607.0 73.5L607.4 73.4L607.9 73.9L608.4 74.1L608.8 75.1L609.3 76.5L609.8 77.3L610.7 80.4L611.1 83.1L611.6 84.1L612.1 86.8L612.5 88.3L613.0 89.2L613.5 92.0L613.9 93.9L614.8 98.5L615.8 101.8L617.1 107.3L617.6 108.7L618.1 109.5L618.5 111.4L619.0 112.8L620.4 116.6L621.3 117.7L622.2 120.1L622.7 120.0L623.2 121.0L623.6 121.1L624.1 122.3L624.5 123.2L625.0 123.2L625.9 124.4L626.9 124.8L627.3 125.3L627.8 125.1L628.7 125.9L629.2 126.1L629.6 125.9L630.1 126.2L630.5 126.9L631.5 126.3L632.4 127.3L632.9 126.7L633.3 126.5L634.2 128.2L634.7 128.0L635.2 127.1L635.6 127.8L636.1 127.6L637.0 127.9L637.5 127.5L637.9 128.0L638.4 128.0L639.3 128.2L639.8 127.6L640.2 128.7L640.7 128.8L641.2 128.1L641.6 128.9L642.1 128.5L642.6 128.9L643.0 128.4L643.5 128.7L643.9 128.5L644.4 129.0L644.9 128.8L645.3 129.5L645.8 128.6L646.7 128.9L647.2 129.0L647.6 129.1L648.1 129.1L648.6 128.5L649.0 129.3L649.5 129.3L650.0 128.9L650.4 129.1L650.9 129.4L651.3 128.7L651.8 128.7L652.3 129.3L652.7 128.7L653.2 129.7L653.6 128.8L654.1 129.8L654.6 129.2L655.5 129.5L656.0 129.2L656.4 129.7L656.9 129.7L657.3 129.8L657.8 129.0L658.3 129.7L658.7 129.4L659.2 129.6L659.7 129.2L660.1 129.9L661.0 129.8L661.5 129.5L662.0 129.8L662.4 129.5L662.9 129.4L663.3 129.3L663.8 129.5L664.3 129.2L664.7 129.8L666.1 129.9L666.6 130.1L667.0 129.6L667.5 129.7L668.0 130.4L668.4 129.8L668.9 130.0L669.4 130.0L669.8 129.8L670.3 129.4L670.7 129.7L671.2 130.4L671.7 129.7L672.1 130.1L672.6 129.3L673.1 130.0L673.5 129.8L674.0 129.9L674.4 130.1L674.9 130.0" fill="none" stroke="#c0b0e4" stroke-width="0.70" stroke-linejoin="round" /><line x1="535.80" y1="46.20" x2="675.90" y2="46.20" stroke="#a0a0a0" stroke-width="1.00"/><line x1="675.40" y1="46.20" x2="675.40" y2="134.90" stroke="#a0a0a0" stroke-width="1.00"/><line x1="536.30" y1="45.70" x2="536.30" y2="135.40" stroke="#888" stroke-width="1.00"/><line x1="535.80" y1="134.90" x2="675.90" y2="134.90" stroke="#888" stroke-width="1.00"/><line x1="536.30" y1="130.40" x2="538.30" y2="130.40" stroke="#999" stroke-width="0.60"/><text x="534.80" y="132.70" font-size="5.20" text-anchor="end" fill="#333" stroke="#333" stroke-width="0.25">0</text><line x1="536.30" y1="121.83" x2="537.50" y2="121.83" stroke="#999" stroke-width="0.60"/><line x1="536.30" y1="113.26" x2="538.30" y2="113.26" stroke="#999" stroke-width="0.60"/><text x="534.80" y="115.56" font-size="5.20" text-anchor="end" fill="#333" stroke="#333" stroke-width="0.25">2000</text><line x1="536.30" y1="104.69" x2="537.50" y2="104.69" stroke="#999" stroke-width="0.60"/><line x1="536.30" y1="96.12" x2="538.30" y2="96.12" stroke="#999" stroke-width="0.60"/><text x="534.80" y="98.42" font-size="5.20" text-anchor="end" fill="#333" stroke="#333" stroke-width="0.25">4000</text><line x1="536.30" y1="87.55" x2="537.50" y2="87.55" stroke="#999" stroke-width="0.60"/><line x1="536.30" y1="78.98" x2="538.30" y2="78.98" stroke="#999" stroke-width="0.60"/><text x="534.80" y="81.28" font-size="5.20" text-anchor="end" fill="#333" stroke="#333" stroke-width="0.25">6000</text><line x1="536.30" y1="70.41" x2="537.50" y2="70.41" stroke="#999" stroke-width="0.60"/><line x1="536.30" y1="61.84" x2="538.30" y2="61.84" stroke="#999" stroke-width="0.60"/><text x="534.80" y="64.14" font-size="5.20" text-anchor="end" fill="#333" stroke="#333" stroke-width="0.25">8000</text><line x1="536.30" y1="53.27" x2="537.50" y2="53.27" stroke="#999" stroke-width="0.60"/><line x1="536.30" y1="44.70" x2="538.30" y2="44.70" stroke="#999" stroke-width="0.60"/><text x="534.80" y="47.00" font-size="5.20" text-anchor="end" fill="#333" stroke="#333" stroke-width="0.25">10000</text><line x1="536.30" y1="134.90" x2="536.30" y2="132.90" stroke="#999" stroke-width="0.60"/><text x="536.30" y="140.70" font-size="5.40" text-anchor="middle" fill="#333" stroke="#333" stroke-width="0.25">25</text><line x1="547.85" y1="134.90" x2="547.85" y2="133.70" stroke="#999" stroke-width="0.60"/><line x1="559.40" y1="134.90" x2="559.40" y2="132.90" stroke="#999" stroke-width="0.60"/><text x="559.40" y="140.70" font-size="5.40" text-anchor="middle" fill="#333" stroke="#333" stroke-width="0.25">26</text><line x1="570.95" y1="134.90" x2="570.95" y2="133.70" stroke="#999" stroke-width="0.60"/><line x1="582.50" y1="134.90" x2="582.50" y2="132.90" stroke="#999" stroke-width="0.60"/><text x="582.50" y="140.70" font-size="5.40" text-anchor="middle" fill="#333" stroke="#333" stroke-width="0.25">27</text><line x1="594.05" y1="134.90" x2="594.05" y2="133.70" stroke="#999" stroke-width="0.60"/><line x1="605.60" y1="134.90" x2="605.60" y2="132.90" stroke="#999" stroke-width="0.60"/><text x="605.60" y="140.70" font-size="5.40" text-anchor="middle" fill="#333" stroke="#333" stroke-width="0.25">28</text><line x1="617.15" y1="134.90" x2="617.15" y2="133.70" stroke="#999" stroke-width="0.60"/><line x1="628.70" y1="134.90" x2="628.70" y2="132.90" stroke="#999" stroke-width="0.60"/><text x="628.70" y="140.70" font-size="5.40" text-anchor="middle" fill="#333" stroke="#333" stroke-width="0.25">29</text><line x1="640.25" y1="134.90" x2="640.25" y2="133.70" stroke="#999" stroke-width="0.60"/><line x1="651.80" y1="134.90" x2="651.80" y2="132.90" stroke="#999" stroke-width="0.60"/><text x="651.80" y="140.70" font-size="5.40" text-anchor="middle" fill="#333" stroke="#333" stroke-width="0.25">30</text><line x1="663.35" y1="134.90" x2="663.35" y2="133.70" stroke="#999" stroke-width="0.60"/><line x1="674.90" y1="134.90" x2="674.90" y2="132.90" stroke="#999" stroke-width="0.60"/><text x="674.90" y="140.70" font-size="5.40" text-anchor="middle" fill="#333" stroke="#333" stroke-width="0.25">31</text><text x="605.60" y="151.60" font-size="9.10" text-anchor="middle" fill="#000" >2 Theta (Deg.)</text><text x="0.00" y="0.00" font-size="9.05" text-anchor="middle" fill="#000" transform="translate(517.4,87.0) rotate(-90)">Intensity (a.u.)</text></svg></body></html>
